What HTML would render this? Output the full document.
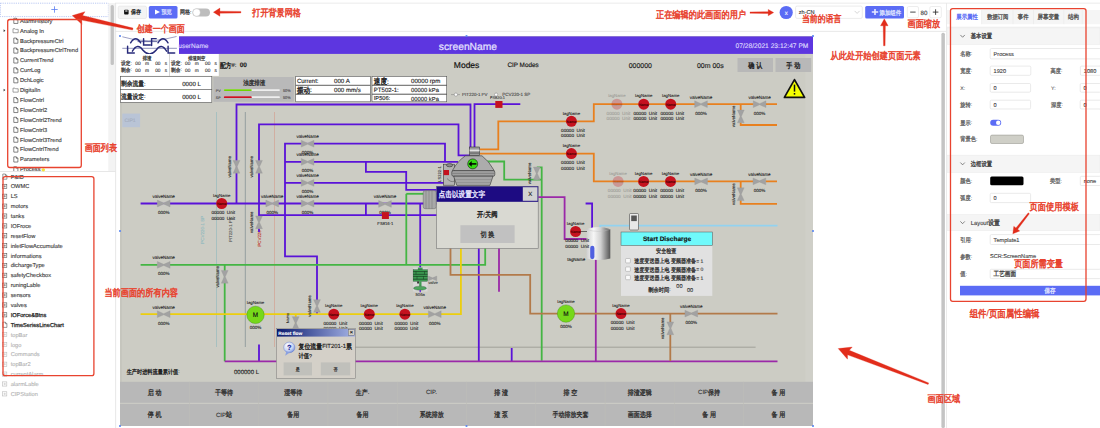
<!DOCTYPE html><html><head><meta charset="utf-8"><title>Screen editor</title><style>*{margin:0;padding:0;box-sizing:border-box}
html,body{width:1100px;height:428px;overflow:hidden;background:#fff}
svg{position:absolute;left:0;top:0;display:block;font-family:"Liberation Sans",sans-serif;text-rendering:geometricPrecision}</style></head><body><svg width="1100" height="428" viewBox="0 0 1100 428">
<rect x="0.4" y="3.2" width="108" height="13.4" fill="none" stroke="#9fb3ee" stroke-width="0.7" stroke-dasharray="1.2 1"/>
<path d="M54.5 6.3V12.7M51.3 9.5H57.7" stroke="#5b7cf0" stroke-width="0.8"/>
<rect x="108.30" y="3.00" width="7.00" height="168.00" fill="#f3f3f3" />
<rect x="110.60" y="5.00" width="3.30" height="60.00" fill="#c3c3c3" rx="1.6"/>
<rect x="115.30" y="3.00" width="0.80" height="425.00" fill="#e2e2e2" />
<rect x="0.00" y="171.00" width="115.50" height="0.80" fill="#e2e2e2" />
<defs><clipPath id="cu"><rect x="0" y="16.8" width="108" height="154.2"/></clipPath><clipPath id="cl"><rect x="0" y="171.8" width="115" height="257"/></clipPath></defs>
<g clip-path="url(#cu)">
<path d="M13.8 18.25H16.400000000000002L17.9 19.75V23.45H13.8Z M16.400000000000002 18.25V19.75H17.9" fill="none" stroke="#444" stroke-width="0.65"/>
<text x="20.00" y="22.79" font-size="5.68" fill="#3a3a3a" stroke="#3a3a3a" stroke-width="0.125">AlarmHistory</text>
<path d="M3.6 29.25L5.4 30.65L3.6 32.05Z" fill="#333"/>
<path d="M13.0 28.75H15.0L15.5 29.349999999999998H18.2V32.75H13.0Z" fill="none" stroke="#666" stroke-width="0.6"/>
<text x="20.00" y="32.69" font-size="5.68" fill="#3a3a3a" stroke="#3a3a3a" stroke-width="0.125">Analog In</text>
<path d="M13.8 38.05H16.400000000000002L17.9 39.55V43.25H13.8Z M16.400000000000002 38.05V39.55H17.9" fill="none" stroke="#444" stroke-width="0.65"/>
<text x="20.00" y="42.59" font-size="5.68" fill="#3a3a3a" stroke="#3a3a3a" stroke-width="0.125">BackpressureCtrl</text>
<path d="M13.8 47.95H16.400000000000002L17.9 49.45V53.150000000000006H13.8Z M16.400000000000002 47.95V49.45H17.9" fill="none" stroke="#444" stroke-width="0.65"/>
<text x="20.00" y="52.49" font-size="5.68" fill="#3a3a3a" stroke="#3a3a3a" stroke-width="0.125">BackpressureCtrlTrend</text>
<path d="M13.8 57.85H16.400000000000002L17.9 59.35V63.050000000000004H13.8Z M16.400000000000002 57.85V59.35H17.9" fill="none" stroke="#444" stroke-width="0.65"/>
<text x="20.00" y="62.39" font-size="5.68" fill="#3a3a3a" stroke="#3a3a3a" stroke-width="0.125">CurrentTrend</text>
<path d="M13.8 67.75H16.400000000000002L17.9 69.25V72.95H13.8Z M16.400000000000002 67.75V69.25H17.9" fill="none" stroke="#444" stroke-width="0.65"/>
<text x="20.00" y="72.29" font-size="5.68" fill="#3a3a3a" stroke="#3a3a3a" stroke-width="0.125">CurrLog</text>
<path d="M13.8 77.65H16.400000000000002L17.9 79.15V82.85000000000001H13.8Z M16.400000000000002 77.65V79.15H17.9" fill="none" stroke="#444" stroke-width="0.65"/>
<text x="20.00" y="82.19" font-size="5.68" fill="#3a3a3a" stroke="#3a3a3a" stroke-width="0.125">DchLogic</text>
<path d="M3.6 88.64999999999999L5.4 90.05L3.6 91.45Z" fill="#333"/>
<path d="M13.0 88.14999999999999H15.0L15.5 88.75H18.2V92.14999999999999H13.0Z" fill="none" stroke="#666" stroke-width="0.6"/>
<text x="20.00" y="92.09" font-size="5.68" fill="#3a3a3a" stroke="#3a3a3a" stroke-width="0.125">DigitalIn</text>
<path d="M13.8 97.45H16.400000000000002L17.9 98.95V102.65H13.8Z M16.400000000000002 97.45V98.95H17.9" fill="none" stroke="#444" stroke-width="0.65"/>
<text x="20.00" y="101.99" font-size="5.68" fill="#3a3a3a" stroke="#3a3a3a" stroke-width="0.125">FlowCntrl</text>
<path d="M13.8 107.35000000000001H16.400000000000002L17.9 108.85000000000001V112.55000000000001H13.8Z M16.400000000000002 107.35000000000001V108.85000000000001H17.9" fill="none" stroke="#444" stroke-width="0.65"/>
<text x="20.00" y="111.89" font-size="5.68" fill="#3a3a3a" stroke="#3a3a3a" stroke-width="0.125">FlowCntrl2</text>
<path d="M13.8 117.25H16.400000000000002L17.9 118.75V122.45H13.8Z M16.400000000000002 117.25V118.75H17.9" fill="none" stroke="#444" stroke-width="0.65"/>
<text x="20.00" y="121.79" font-size="5.68" fill="#3a3a3a" stroke="#3a3a3a" stroke-width="0.125">FlowCntrl2Trend</text>
<path d="M13.8 127.15H16.400000000000002L17.9 128.65V132.35H13.8Z M16.400000000000002 127.15V128.65H17.9" fill="none" stroke="#444" stroke-width="0.65"/>
<text x="20.00" y="131.69" font-size="5.68" fill="#3a3a3a" stroke="#3a3a3a" stroke-width="0.125">FlowCntrl3</text>
<path d="M13.8 137.05H16.400000000000002L17.9 138.55V142.25H13.8Z M16.400000000000002 137.05V138.55H17.9" fill="none" stroke="#444" stroke-width="0.65"/>
<text x="20.00" y="141.59" font-size="5.68" fill="#3a3a3a" stroke="#3a3a3a" stroke-width="0.125">FlowCntrl3Trend</text>
<path d="M13.8 146.95000000000002H16.400000000000002L17.9 148.45000000000002V152.15H13.8Z M16.400000000000002 146.95000000000002V148.45000000000002H17.9" fill="none" stroke="#444" stroke-width="0.65"/>
<text x="20.00" y="151.49" font-size="5.68" fill="#3a3a3a" stroke="#3a3a3a" stroke-width="0.125">FlowCntrlTrend</text>
<path d="M13.8 156.85H16.400000000000002L17.9 158.35V162.04999999999998H13.8Z M16.400000000000002 156.85V158.35H17.9" fill="none" stroke="#444" stroke-width="0.65"/>
<text x="20.00" y="161.39" font-size="5.68" fill="#3a3a3a" stroke="#3a3a3a" stroke-width="0.125">Parameters</text>
<path d="M13.8 166.75H16.400000000000002L17.9 168.25V171.95H13.8Z M16.400000000000002 166.75V168.25H17.9" fill="none" stroke="#444" stroke-width="0.65"/>
<text x="20.00" y="171.29" font-size="5.68" fill="#3a3a3a" stroke="#3a3a3a" stroke-width="0.125">Process</text>
</g>
<ellipse cx="43.3" cy="169.8" rx="1.8" ry="1.6" fill="#f3e23a"/>
<g clip-path="url(#cl)">
<path d="M2.8 174.0H5.4L6.8999999999999995 175.5V179.2H2.8Z M5.4 174.0V175.5H6.8999999999999995" fill="none" stroke="#666" stroke-width="0.65"/>
<text x="10.70" y="178.54" font-size="5.68" fill="#3a3a3a" stroke="#3a3a3a" stroke-width="0.125">P&amp;ID</text>
<rect x="2.6" y="184.28" width="4.2" height="4.2" fill="none" stroke="#555" stroke-width="0.6"/><path d="M3.5 186.38H5.9M4.7 185.18V187.57999999999998" stroke="#555" stroke-width="0.5"/>
<text x="10.70" y="188.42" font-size="5.68" fill="#3a3a3a" stroke="#3a3a3a" stroke-width="0.125">OWMC</text>
<rect x="2.6" y="194.16" width="4.2" height="4.2" fill="none" stroke="#555" stroke-width="0.6"/><path d="M3.5 196.26H5.9M4.7 195.06V197.45999999999998" stroke="#555" stroke-width="0.5"/>
<text x="10.70" y="198.30" font-size="5.68" fill="#3a3a3a" stroke="#3a3a3a" stroke-width="0.125">LS</text>
<rect x="2.6" y="204.04" width="4.2" height="4.2" fill="none" stroke="#555" stroke-width="0.6"/><path d="M3.5 206.14H5.9M4.7 204.94V207.33999999999997" stroke="#555" stroke-width="0.5"/>
<text x="10.70" y="208.18" font-size="5.68" fill="#3a3a3a" stroke="#3a3a3a" stroke-width="0.125">motors</text>
<rect x="2.6" y="213.92000000000002" width="4.2" height="4.2" fill="none" stroke="#555" stroke-width="0.6"/><path d="M3.5 216.02H5.9M4.7 214.82000000000002V217.22" stroke="#555" stroke-width="0.5"/>
<text x="10.70" y="218.06" font-size="5.68" fill="#3a3a3a" stroke="#3a3a3a" stroke-width="0.125">tanks</text>
<rect x="2.6" y="223.8" width="4.2" height="4.2" fill="none" stroke="#555" stroke-width="0.6"/><path d="M3.5 225.9H5.9M4.7 224.70000000000002V227.1" stroke="#555" stroke-width="0.5"/>
<text x="10.70" y="227.94" font-size="5.68" fill="#3a3a3a" stroke="#3a3a3a" stroke-width="0.125">IOFroce</text>
<rect x="2.6" y="233.68" width="4.2" height="4.2" fill="none" stroke="#555" stroke-width="0.6"/><path d="M3.5 235.78H5.9M4.7 234.58V236.98" stroke="#555" stroke-width="0.5"/>
<text x="10.70" y="237.82" font-size="5.68" fill="#3a3a3a" stroke="#3a3a3a" stroke-width="0.125">resetFlow</text>
<rect x="2.6" y="243.56000000000003" width="4.2" height="4.2" fill="none" stroke="#555" stroke-width="0.6"/><path d="M3.5 245.66000000000003H5.9M4.7 244.46000000000004V246.86" stroke="#555" stroke-width="0.5"/>
<text x="10.70" y="247.70" font-size="5.68" fill="#3a3a3a" stroke="#3a3a3a" stroke-width="0.125">inletFlowAccumulate</text>
<rect x="2.6" y="253.44000000000003" width="4.2" height="4.2" fill="none" stroke="#555" stroke-width="0.6"/><path d="M3.5 255.54000000000002H5.9M4.7 254.34000000000003V256.74" stroke="#555" stroke-width="0.5"/>
<text x="10.70" y="257.58" font-size="5.68" fill="#3a3a3a" stroke="#3a3a3a" stroke-width="0.125">informations</text>
<rect x="2.6" y="263.32" width="4.2" height="4.2" fill="none" stroke="#555" stroke-width="0.6"/><path d="M3.5 265.42H5.9M4.7 264.22V266.62" stroke="#555" stroke-width="0.5"/>
<text x="10.70" y="267.46" font-size="5.68" fill="#3a3a3a" stroke="#3a3a3a" stroke-width="0.125">dichargeType</text>
<rect x="2.6" y="273.2" width="4.2" height="4.2" fill="none" stroke="#555" stroke-width="0.6"/><path d="M3.5 275.3H5.9M4.7 274.1V276.5" stroke="#555" stroke-width="0.5"/>
<text x="10.70" y="277.34" font-size="5.68" fill="#3a3a3a" stroke="#3a3a3a" stroke-width="0.125">safetyCheckbox</text>
<rect x="2.6" y="283.08" width="4.2" height="4.2" fill="none" stroke="#555" stroke-width="0.6"/><path d="M3.5 285.18H5.9M4.7 283.98V286.38" stroke="#555" stroke-width="0.5"/>
<text x="10.70" y="287.22" font-size="5.68" fill="#3a3a3a" stroke="#3a3a3a" stroke-width="0.125">runingLable</text>
<rect x="2.6" y="292.96" width="4.2" height="4.2" fill="none" stroke="#555" stroke-width="0.6"/><path d="M3.5 295.06H5.9M4.7 293.86V296.26" stroke="#555" stroke-width="0.5"/>
<text x="10.70" y="297.10" font-size="5.68" fill="#3a3a3a" stroke="#3a3a3a" stroke-width="0.125">sensors</text>
<rect x="2.6" y="302.84" width="4.2" height="4.2" fill="none" stroke="#555" stroke-width="0.6"/><path d="M3.5 304.94H5.9M4.7 303.74V306.14" stroke="#555" stroke-width="0.5"/>
<text x="10.70" y="306.98" font-size="5.68" fill="#3a3a3a" stroke="#3a3a3a" stroke-width="0.125">valves</text>
<rect x="2.6" y="312.72" width="4.2" height="4.2" fill="none" stroke="#555" stroke-width="0.6"/><path d="M3.5 314.82000000000005H5.9M4.7 313.62000000000006V316.02000000000004" stroke="#555" stroke-width="0.5"/>
<text x="10.70" y="316.86" font-size="5.68" fill="#222" stroke="#222" stroke-width="0.25">IOForce&amp;Btns</text>
<path d="M2.8 322.20000000000005H5.4L6.8999999999999995 323.70000000000005V327.40000000000003H2.8Z M5.4 322.20000000000005V323.70000000000005H6.8999999999999995" fill="none" stroke="#666" stroke-width="0.65"/>
<text x="10.70" y="326.74" font-size="5.68" fill="#222" stroke="#222" stroke-width="0.25">TimeSeriesLineChart</text>
<rect x="2.6" y="332.48" width="4.2" height="4.2" fill="none" stroke="#bbb" stroke-width="0.6"/><path d="M3.5 334.58000000000004H5.9M4.7 333.38000000000005V335.78000000000003" stroke="#bbb" stroke-width="0.5"/>
<text x="10.70" y="336.62" font-size="5.68" fill="#b5b5b5" stroke="#b5b5b5" stroke-width="0.125">topBar</text>
<rect x="2.6" y="342.36" width="4.2" height="4.2" fill="none" stroke="#bbb" stroke-width="0.6"/><path d="M3.5 344.46000000000004H5.9M4.7 343.26000000000005V345.66" stroke="#bbb" stroke-width="0.5"/>
<text x="10.70" y="346.50" font-size="5.68" fill="#b5b5b5" stroke="#b5b5b5" stroke-width="0.125">logo</text>
<rect x="2.6" y="352.24" width="4.2" height="4.2" fill="none" stroke="#bbb" stroke-width="0.6"/><path d="M3.5 354.34000000000003H5.9M4.7 353.14000000000004V355.54" stroke="#bbb" stroke-width="0.5"/>
<text x="10.70" y="356.38" font-size="5.68" fill="#b5b5b5" stroke="#b5b5b5" stroke-width="0.125">Commands</text>
<rect x="2.6" y="362.12" width="4.2" height="4.2" fill="none" stroke="#bbb" stroke-width="0.6"/><path d="M3.5 364.22H5.9M4.7 363.02000000000004V365.42" stroke="#bbb" stroke-width="0.5"/>
<text x="10.70" y="366.26" font-size="5.68" fill="#b5b5b5" stroke="#b5b5b5" stroke-width="0.125">topBar2</text>
<rect x="2.6" y="372.0" width="4.2" height="4.2" fill="none" stroke="#bbb" stroke-width="0.6"/><path d="M3.5 374.1H5.9M4.7 372.90000000000003V375.3" stroke="#bbb" stroke-width="0.5"/>
<text x="10.70" y="376.14" font-size="5.68" fill="#b5b5b5" stroke="#b5b5b5" stroke-width="0.125">currentAlarm</text>
<rect x="2.6" y="381.88" width="4.2" height="4.2" fill="none" stroke="#bbb" stroke-width="0.6"/><path d="M3.5 383.98H5.9M4.7 382.78000000000003V385.18" stroke="#bbb" stroke-width="0.5"/>
<text x="10.70" y="386.02" font-size="5.68" fill="#b5b5b5" stroke="#b5b5b5" stroke-width="0.125">alarmLable</text>
<rect x="2.6" y="391.76" width="4.2" height="4.2" fill="none" stroke="#bbb" stroke-width="0.6"/><path d="M3.5 393.86H5.9M4.7 392.66V395.06" stroke="#bbb" stroke-width="0.5"/>
<text x="10.70" y="395.90" font-size="5.68" fill="#b5b5b5" stroke="#b5b5b5" stroke-width="0.125">CIPStation</text>
</g>
<rect x="115.00" y="2.70" width="985.00" height="0.80" fill="#e6e6e6" />
<rect x="115.00" y="30.90" width="831.00" height="0.80" fill="#e3e3e3" />
<rect x="118.2" y="6.1" width="28.3" height="12.4" rx="1.5" fill="#f4f4f4" stroke="#e0e0e0" stroke-width="0.6"/>
<rect x="124.10" y="9.80" width="4.50" height="4.60" fill="#111" rx="0.9"/>
<rect x="125.20" y="10.40" width="2.30" height="1.20" fill="#ddd" />
<text x="130.90" y="13.90" font-size="5.00" fill="#222" textLength="10.00" lengthAdjust="spacingAndGlyphs" stroke="#222" stroke-width="0.25" transform="matrix(1 0 0 1.2 0 -2.41)">保存</text>
<rect x="148.80" y="6.10" width="28.70" height="12.40" fill="#5b6cf5" rx="1.5"/>
<path d="M155 9.6L160 12.1L155 14.6Z" fill="#ffffff"/>
<text x="161.40" y="13.97" font-size="5.20" fill="#cfd6ff" textLength="10.40" lengthAdjust="spacingAndGlyphs" stroke="#cfd6ff" stroke-width="0.26" transform="matrix(1 0 0 1.2 0 -2.41)">预览</text>
<text x="180.00" y="14.10" font-size="5.00" fill="#444" textLength="10.01" lengthAdjust="spacingAndGlyphs" stroke="#444" stroke-width="0.25" transform="matrix(1 0 0 1.2 0 -2.45)">网格</text><text x="190.01" y="14.10" font-size="5.00" fill="#444" stroke="#444" stroke-width="0.110">:</text>
<rect x="192.50" y="8.40" width="17.50" height="8.20" fill="#bdbdbd" rx="4.1"/>
<circle cx="196.6" cy="12.5" r="3.7" fill="#fff" stroke="#aaa" stroke-width="0.3"/>
<circle cx="786.2" cy="12.5" r="6.6" fill="#5b6cf5"/>
<text x="784.70" y="14.56" font-size="6.00" fill="#eef0ff" stroke="#eef0ff" stroke-width="0.132">x</text>
<rect x="795.6" y="6.1" width="66.7" height="12.3" rx="1.5" fill="#fff" stroke="#dedede" stroke-width="0.6"/>
<text x="798.80" y="14.32" font-size="5.60" fill="#333" stroke="#333" stroke-width="0.123">zh-CN</text>
<path d="M854.6 10.9L857.1 13.4L859.6 10.9" fill="none" stroke="#bbb" stroke-width="0.6"/>
<rect x="865.20" y="6.10" width="38.80" height="12.40" fill="#5b6cf5" rx="1.5"/>
<path d="M871.8 10.3H874.2V8H875.8V10.3H878.2V11.9H875.8V14.2H874.2V11.9H871.8Z" fill="#e6e9ff" transform="translate(0 0.9)"/>
<text x="879.50" y="14.34" font-size="5.40" fill="#dfe3ff" textLength="21.60" lengthAdjust="spacingAndGlyphs" stroke="#dfe3ff" stroke-width="0.27" transform="matrix(1 0 0 1.2 0 -2.47)">添加组件</text>
<rect x="907.3" y="6.5" width="11.2" height="11.3" rx="1.5" fill="#fff" stroke="#e0e0e0" stroke-width="0.6"/>
<path d="M910.2 12.1H915.6" stroke="#333" stroke-width="0.9"/>
<text x="920.60" y="14.53" font-size="6.20" fill="#444" stroke="#444" stroke-width="0.136">80</text>
<rect x="929.8" y="6.5" width="11.5" height="11.3" rx="1.5" fill="#fff" stroke="#e0e0e0" stroke-width="0.6"/>
<path d="M932.8 12.1H938.4M935.6 9.3V14.9" stroke="#333" stroke-width="0.9"/>
<rect x="941.40" y="32.70" width="3.50" height="395.30" fill="#c4c4c4" rx="1.5"/>
<rect x="946.20" y="3.00" width="0.80" height="425.00" fill="#e6e6e6" />
<rect x="947.00" y="10.00" width="153.00" height="14.20" fill="#f5f5f5" />
<rect x="950.50" y="9.50" width="31.00" height="17.40" fill="#fff" />
<rect x="981.50" y="10.00" width="0.60" height="14.20" fill="#e8e8e8" />
<rect x="1012.70" y="10.00" width="0.60" height="14.20" fill="#e8e8e8" />
<rect x="1033.10" y="10.00" width="0.60" height="14.20" fill="#e8e8e8" />
<rect x="1063.60" y="10.00" width="0.60" height="14.20" fill="#e8e8e8" />
<rect x="1081.80" y="10.00" width="0.60" height="14.20" fill="#e8e8e8" />
<rect x="947.00" y="26.80" width="153.00" height="0.70" fill="#e6e6e6" />
<text x="956.30" y="18.73" font-size="5.38" fill="#5b6cf5" textLength="21.50" lengthAdjust="spacingAndGlyphs" stroke="#5b6cf5" stroke-width="0.27" transform="matrix(1 0 0 1.2 0 -3.35)">展示属性</text>
<text x="987.30" y="18.70" font-size="5.28" fill="#555" textLength="21.10" lengthAdjust="spacingAndGlyphs" stroke="#555" stroke-width="0.26" transform="matrix(1 0 0 1.2 0 -3.35)">数据订阅</text>
<text x="1017.80" y="18.73" font-size="5.35" fill="#555" textLength="10.70" lengthAdjust="spacingAndGlyphs" stroke="#555" stroke-width="0.27" transform="matrix(1 0 0 1.2 0 -3.35)">事件</text>
<text x="1037.50" y="18.76" font-size="5.45" fill="#555" textLength="21.80" lengthAdjust="spacingAndGlyphs" stroke="#555" stroke-width="0.27" transform="matrix(1 0 0 1.2 0 -3.35)">屏幕变量</text>
<text x="1068.00" y="18.76" font-size="5.45" fill="#555" textLength="10.90" lengthAdjust="spacingAndGlyphs" stroke="#555" stroke-width="0.27" transform="matrix(1 0 0 1.2 0 -3.35)">结构</text>
<rect x="947.00" y="27.90" width="153.00" height="16.50" fill="#f5f5f5" stroke="#ebebeb" stroke-width="0.6"/>
<path d="M960.4 34.949999999999996L962.6 37.25L964.8 34.949999999999996" fill="none" stroke="#555" stroke-width="0.7"/>
<text x="970.80" y="38.06" font-size="5.30" fill="#444" textLength="21.20" lengthAdjust="spacingAndGlyphs" stroke="#444" stroke-width="0.27" transform="matrix(1 0 0 1.2 0 -7.22)">基本设置</text>
<rect x="947.00" y="155.20" width="153.00" height="17.10" fill="#f5f5f5" stroke="#ebebeb" stroke-width="0.6"/>
<path d="M960.4 162.55L962.6 164.85L964.8 162.55" fill="none" stroke="#555" stroke-width="0.7"/>
<text x="970.80" y="165.66" font-size="5.30" fill="#444" textLength="21.20" lengthAdjust="spacingAndGlyphs" stroke="#444" stroke-width="0.27" transform="matrix(1 0 0 1.2 0 -32.74)">边框设置</text>
<rect x="947.00" y="214.60" width="153.00" height="16.00" fill="#f5f5f5" stroke="#ebebeb" stroke-width="0.6"/>
<path d="M960.4 221.4L962.6 223.7L964.8 221.4" fill="none" stroke="#555" stroke-width="0.7"/>
<text x="970.80" y="224.69" font-size="5.80" fill="#444" stroke="#444" stroke-width="0.128">Layout</text><text x="988.21" y="224.69" font-size="5.80" fill="#444" textLength="11.59" lengthAdjust="spacingAndGlyphs" stroke="#444" stroke-width="0.29" transform="matrix(1 0 0 1.2 0 -44.51)">设置</text>
<text x="960.30" y="55.47" font-size="5.20" fill="#666" textLength="10.40" lengthAdjust="spacingAndGlyphs" stroke="#666" stroke-width="0.26" transform="matrix(1 0 0 1.2 0 -10.71)">名称</text><text x="970.70" y="55.47" font-size="5.20" fill="#666" stroke="#666" stroke-width="0.114">:</text>
<rect x="990.2" y="48.5" width="110.80" height="10.40" rx="1.2" fill="#fff" stroke="#dcdcdc" stroke-width="0.6"/>
<text x="993.60" y="55.72" font-size="5.60" fill="#444" stroke="#444" stroke-width="0.123">Process</text>
<text x="960.30" y="72.47" font-size="5.20" fill="#666" textLength="10.40" lengthAdjust="spacingAndGlyphs" stroke="#666" stroke-width="0.26" transform="matrix(1 0 0 1.2 0 -14.11)">宽度</text><text x="970.70" y="72.47" font-size="5.20" fill="#666" stroke="#666" stroke-width="0.114">:</text>
<rect x="990.2" y="66.1" width="40.60" height="9.20" rx="1.2" fill="#fff" stroke="#dcdcdc" stroke-width="0.6"/>
<text x="993.60" y="72.72" font-size="5.60" fill="#444" stroke="#444" stroke-width="0.123">1920</text>
<text x="1050.50" y="72.47" font-size="5.20" fill="#666" textLength="10.40" lengthAdjust="spacingAndGlyphs" stroke="#666" stroke-width="0.26" transform="matrix(1 0 0 1.2 0 -14.11)">高度</text><text x="1060.90" y="72.47" font-size="5.20" fill="#666" stroke="#666" stroke-width="0.114">:</text>
<rect x="1080.4" y="66.1" width="20.60" height="9.20" rx="1.2" fill="#fff" stroke="#dcdcdc" stroke-width="0.6"/>
<text x="1083.80" y="72.72" font-size="5.60" fill="#444" stroke="#444" stroke-width="0.123">1080</text>
<text x="960.30" y="89.67" font-size="5.20" fill="#666" stroke="#666" stroke-width="0.114">X:</text>
<rect x="990.2" y="83.5" width="40.40" height="8.70" rx="1.2" fill="#fff" stroke="#dcdcdc" stroke-width="0.6"/>
<text x="993.60" y="89.87" font-size="5.60" fill="#444" stroke="#444" stroke-width="0.123">0</text>
<text x="1051.00" y="89.67" font-size="5.20" fill="#666" stroke="#666" stroke-width="0.114">Y:</text>
<rect x="1080.2" y="83.5" width="20.80" height="8.70" rx="1.2" fill="#fff" stroke="#dcdcdc" stroke-width="0.6"/>
<text x="1083.60" y="89.87" font-size="5.60" fill="#444" stroke="#444" stroke-width="0.123">0</text>
<text x="960.30" y="106.47" font-size="5.20" fill="#666" textLength="10.40" lengthAdjust="spacingAndGlyphs" stroke="#666" stroke-width="0.26" transform="matrix(1 0 0 1.2 0 -20.91)">旋转</text><text x="970.70" y="106.47" font-size="5.20" fill="#666" stroke="#666" stroke-width="0.114">:</text>
<rect x="990.2" y="100.2" width="40.40" height="8.80" rx="1.2" fill="#fff" stroke="#dcdcdc" stroke-width="0.6"/>
<text x="993.60" y="106.62" font-size="5.60" fill="#444" stroke="#444" stroke-width="0.123">0</text>
<text x="1051.00" y="106.47" font-size="5.20" fill="#666" textLength="10.40" lengthAdjust="spacingAndGlyphs" stroke="#666" stroke-width="0.26" transform="matrix(1 0 0 1.2 0 -20.91)">深度</text><text x="1061.40" y="106.47" font-size="5.20" fill="#666" stroke="#666" stroke-width="0.114">:</text>
<rect x="1080.2" y="100.2" width="20.80" height="8.80" rx="1.2" fill="#fff" stroke="#dcdcdc" stroke-width="0.6"/>
<text x="1083.60" y="106.62" font-size="5.60" fill="#444" stroke="#444" stroke-width="0.123">0</text>
<text x="960.30" y="124.37" font-size="5.20" fill="#666" textLength="10.40" lengthAdjust="spacingAndGlyphs" stroke="#666" stroke-width="0.26" transform="matrix(1 0 0 1.2 0 -24.49)">显示</text><text x="970.70" y="124.37" font-size="5.20" fill="#666" stroke="#666" stroke-width="0.114">:</text>
<rect x="990.20" y="119.70" width="11.00" height="6.00" fill="#5b6cf5" rx="3"/>
<circle cx="998.2" cy="122.7" r="2.2" fill="#fff"/>
<text x="960.30" y="140.97" font-size="5.20" fill="#666" textLength="15.60" lengthAdjust="spacingAndGlyphs" stroke="#666" stroke-width="0.26" transform="matrix(1 0 0 1.2 0 -27.81)">背景色</text><text x="975.90" y="140.97" font-size="5.20" fill="#666" stroke="#666" stroke-width="0.114">:</text>
<rect x="990.5" y="135.1" width="33" height="8.4" rx="1.5" fill="#cfcfc7" stroke="#9a9a92" stroke-width="0.6"/>
<text x="960.30" y="182.67" font-size="5.20" fill="#666" textLength="10.40" lengthAdjust="spacingAndGlyphs" stroke="#666" stroke-width="0.26" transform="matrix(1 0 0 1.2 0 -36.15)">颜色</text><text x="970.70" y="182.67" font-size="5.20" fill="#666" stroke="#666" stroke-width="0.114">:</text>
<rect x="990.20" y="176.50" width="33.30" height="8.80" fill="#000" rx="1.5"/>
<text x="1050.00" y="182.67" font-size="5.20" fill="#666" textLength="10.40" lengthAdjust="spacingAndGlyphs" stroke="#666" stroke-width="0.26" transform="matrix(1 0 0 1.2 0 -36.15)">类型</text><text x="1060.40" y="182.67" font-size="5.20" fill="#666" stroke="#666" stroke-width="0.114">:</text>
<rect x="1080.3" y="176.3" width="20.70" height="9.20" rx="1.2" fill="#fff" stroke="#dcdcdc" stroke-width="0.6"/>
<text x="1083.70" y="182.92" font-size="5.60" fill="#444" stroke="#444" stroke-width="0.123">none</text>
<text x="960.30" y="199.67" font-size="5.20" fill="#666" textLength="10.40" lengthAdjust="spacingAndGlyphs" stroke="#666" stroke-width="0.26" transform="matrix(1 0 0 1.2 0 -39.55)">弧度</text><text x="970.70" y="199.67" font-size="5.20" fill="#666" stroke="#666" stroke-width="0.114">:</text>
<rect x="990.2" y="193.3" width="40.40" height="9.30" rx="1.2" fill="#fff" stroke="#dcdcdc" stroke-width="0.6"/>
<text x="993.60" y="199.97" font-size="5.60" fill="#444" stroke="#444" stroke-width="0.123">0</text>
<text x="960.30" y="241.27" font-size="5.20" fill="#666" textLength="10.40" lengthAdjust="spacingAndGlyphs" stroke="#666" stroke-width="0.26" transform="matrix(1 0 0 1.2 0 -47.87)">引用</text><text x="970.70" y="241.27" font-size="5.20" fill="#666" stroke="#666" stroke-width="0.114">:</text>
<rect x="990.2" y="234.6" width="110.80" height="9.90" rx="1.2" fill="#fff" stroke="#dcdcdc" stroke-width="0.6"/>
<text x="993.60" y="241.57" font-size="5.60" fill="#444" stroke="#444" stroke-width="0.123">Template1</text>
<text x="960.30" y="258.37" font-size="5.20" fill="#666" textLength="10.40" lengthAdjust="spacingAndGlyphs" stroke="#666" stroke-width="0.26" transform="matrix(1 0 0 1.2 0 -51.29)">参数</text><text x="970.70" y="258.37" font-size="5.20" fill="#666" stroke="#666" stroke-width="0.114">:</text>
<text x="990.00" y="258.42" font-size="5.60" fill="#444" stroke="#444" stroke-width="0.123">SCR:ScreenName</text>
<text x="960.30" y="275.67" font-size="5.20" fill="#666" textLength="5.20" lengthAdjust="spacingAndGlyphs" stroke="#666" stroke-width="0.26" transform="matrix(1 0 0 1.2 0 -54.75)">值</text><text x="965.50" y="275.67" font-size="5.20" fill="#666" stroke="#666" stroke-width="0.114">:</text>
<rect x="990.2" y="269.3" width="110.80" height="9.30" rx="1.2" fill="#fff" stroke="#dcdcdc" stroke-width="0.6"/>
<text x="993.60" y="275.97" font-size="5.60" fill="#444" textLength="22.40" lengthAdjust="spacingAndGlyphs" stroke="#444" stroke-width="0.28" transform="matrix(1 0 0 1.2 0 -54.78)">工艺画面</text>
<rect x="960.00" y="285.80" width="141.00" height="9.60" fill="#5b6cf5" />
<text x="1044.50" y="292.58" font-size="5.50" fill="#e0e4ff" textLength="11.00" lengthAdjust="spacingAndGlyphs" stroke="#e0e4ff" stroke-width="0.28" transform="matrix(1 0 0 1.2 0 -58.11)">保存</text>
<defs><clipPath id="cv"><rect x="120" y="36" width="693" height="390"/></clipPath><linearGradient id="tk" x1="0" x2="1"><stop offset="0" stop-color="#cfcfcf"/><stop offset="0.3" stop-color="#f6f6f6"/><stop offset="0.6" stop-color="#d0d0d0"/><stop offset="1" stop-color="#555"/></linearGradient><linearGradient id="tb" x1="0" x2="1"><stop offset="0" stop-color="#0a1a6e"/><stop offset="1" stop-color="#a6b4e6"/></linearGradient></defs>
<g clip-path="url(#cv)">
<rect x="120.00" y="36.00" width="693.00" height="390.00" fill="#ccccc4" />
<rect x="120.00" y="36.00" width="2.00" height="390.00" fill="#c6c6be" />
<rect x="805.50" y="54.00" width="7.50" height="328.00" fill="#cfcfc8" />
<rect x="120.00" y="36.00" width="59.00" height="18.00" fill="#fff" />
<rect x="179.00" y="36.40" width="634.00" height="17.50" fill="#5d36e0" />
<text x="178.30" y="48.16" font-size="6.55" fill="#d8d2ff" stroke="#d8d2ff" stroke-width="0.144">userName</text>
<text x="438.80" y="49.50" font-size="10.27" fill="#e6e2ff" stroke="#e6e2ff" stroke-width="0.226">screenName</text>
<text x="735.50" y="48.20" font-size="6.67" fill="#ddd8ff" stroke="#ddd8ff" stroke-width="0.147">07/28/2021 23:12:47 PM</text>
<g fill="none" stroke="#272a7a" stroke-width="1.45" stroke-linecap="round"><path d="M122.7 36.9 Q148 45 176.2 36.6" stroke-width="0.45"/><path d="M130.6 42.8 Q135.6 34.6 140.6 42.8"/><path d="M143.6 38.6 V45 H150.3"/><path d="M138 41.6 H157" stroke-width="0.7"/><path d="M151.6 45.6 V38.6 H156.2"/><path d="M158 42.8 Q163 34.6 168 42.8"/><path d="M122.7 48.3 H176.5" stroke-width="0.5"/><path d="M127.6 46.2 V52.9 H134.3"/><path d="M132.4 51.2 Q137.6 42.4 143 50.3 Q149.5 57.8 156 50.3 Q161.4 42.4 166.6 51.2"/><path d="M168.1 46.2 V52.9 H174.7"/></g>
<rect x="120.00" y="54.00" width="98.80" height="21.90" fill="#fff" />
<rect x="169.20" y="54.00" width="0.50" height="21.90" fill="#a8a8a8" />
<text x="142.65" y="59.47" font-size="4.35" fill="#333" textLength="8.70" lengthAdjust="spacingAndGlyphs" stroke="#333" stroke-width="0.22" transform="matrix(1 0 0 1.2 0 -11.57)">排渣</text>
<text x="188.15" y="59.44" font-size="4.28" fill="#333" textLength="17.10" lengthAdjust="spacingAndGlyphs" stroke="#333" stroke-width="0.21" transform="matrix(1 0 0 1.2 0 -11.57)">排渣则空</text>
<text x="121.00" y="64.89" font-size="4.70" fill="#444" textLength="9.39" lengthAdjust="spacingAndGlyphs" stroke="#444" stroke-width="0.23" transform="matrix(1 0 0 1.2 0 -12.63)">设定</text><text x="130.39" y="64.89" font-size="4.70" fill="#444" stroke="#444" stroke-width="0.103">:</text>
<text x="135.30" y="64.93" font-size="4.80" fill="#333" stroke="#333" stroke-width="0.106">00</text>
<text x="145.00" y="64.93" font-size="4.80" fill="#333" stroke="#333" stroke-width="0.106">m</text>
<text x="155.20" y="64.93" font-size="4.80" fill="#333" stroke="#333" stroke-width="0.106">00</text>
<text x="164.80" y="64.93" font-size="4.80" fill="#333" stroke="#333" stroke-width="0.106">s</text>
<text x="121.00" y="71.49" font-size="4.70" fill="#444" textLength="9.39" lengthAdjust="spacingAndGlyphs" stroke="#444" stroke-width="0.23" transform="matrix(1 0 0 1.2 0 -13.95)">剩余</text><text x="130.39" y="71.49" font-size="4.70" fill="#444" stroke="#444" stroke-width="0.103">:</text>
<text x="135.30" y="71.53" font-size="4.80" fill="#333" stroke="#333" stroke-width="0.106">00</text>
<text x="145.00" y="71.53" font-size="4.80" fill="#333" stroke="#333" stroke-width="0.106">m</text>
<text x="155.20" y="71.53" font-size="4.80" fill="#333" stroke="#333" stroke-width="0.106">00</text>
<text x="164.80" y="71.53" font-size="4.80" fill="#333" stroke="#333" stroke-width="0.106">s</text>
<text x="171.00" y="64.89" font-size="4.70" fill="#444" textLength="9.39" lengthAdjust="spacingAndGlyphs" stroke="#444" stroke-width="0.23" transform="matrix(1 0 0 1.2 0 -12.63)">设定</text><text x="180.39" y="64.89" font-size="4.70" fill="#444" stroke="#444" stroke-width="0.103">:</text>
<text x="185.10" y="64.93" font-size="4.80" fill="#333" stroke="#333" stroke-width="0.106">00</text>
<text x="194.80" y="64.93" font-size="4.80" fill="#333" stroke="#333" stroke-width="0.106">m</text>
<text x="205.00" y="64.93" font-size="4.80" fill="#333" stroke="#333" stroke-width="0.106">00</text>
<text x="214.60" y="64.93" font-size="4.80" fill="#333" stroke="#333" stroke-width="0.106">s</text>
<text x="171.00" y="71.49" font-size="4.70" fill="#444" textLength="9.39" lengthAdjust="spacingAndGlyphs" stroke="#444" stroke-width="0.23" transform="matrix(1 0 0 1.2 0 -13.95)">剩余</text><text x="180.39" y="71.49" font-size="4.70" fill="#444" stroke="#444" stroke-width="0.103">:</text>
<text x="185.10" y="71.53" font-size="4.80" fill="#333" stroke="#333" stroke-width="0.106">00</text>
<text x="194.80" y="71.53" font-size="4.80" fill="#333" stroke="#333" stroke-width="0.106">m</text>
<text x="205.00" y="71.53" font-size="4.80" fill="#333" stroke="#333" stroke-width="0.106">00</text>
<text x="214.60" y="71.53" font-size="4.80" fill="#333" stroke="#333" stroke-width="0.106">s</text>
<text x="220.00" y="67.09" font-size="5.81" fill="#222" textLength="11.62" lengthAdjust="spacingAndGlyphs" stroke="#222" stroke-width="0.29" transform="matrix(1 0 0 1.2 0 -12.99)">配方</text><text x="231.62" y="67.09" font-size="5.81" fill="#222" stroke="#222" stroke-width="0.128"> #: </text>
<text x="239.70" y="67.34" font-size="6.50" fill="#222" font-weight="bold" stroke="#222" stroke-width="0.143">00</text>
<text x="453.80" y="68.27" font-size="8.53" fill="#111" stroke="#111" stroke-width="0.188">Modes</text>
<text x="507.40" y="67.29" font-size="6.35" fill="#111" stroke="#111" stroke-width="0.140">CIP Modes</text>
<text x="628.70" y="67.51" font-size="6.98" fill="#222" stroke="#222" stroke-width="0.154">000000</text>
<text x="697.00" y="67.51" font-size="6.96" fill="#222" stroke="#222" stroke-width="0.153">00m 00s</text>
<rect x="737.50" y="58.00" width="35.50" height="14.00" fill="#b8b8b8" />
<rect x="775.50" y="58.00" width="35.70" height="14.00" fill="#b8b8b8" />
<text x="748.30" y="67.31" font-size="6.15" fill="#222" textLength="6.15" lengthAdjust="spacingAndGlyphs" stroke="#222" stroke-width="0.31" transform="matrix(1 0 0 1.2 0 -13.01)">确</text><text x="754.45" y="67.31" font-size="6.15" fill="#222" stroke="#222" stroke-width="0.135"> </text><text x="756.15" y="67.31" font-size="6.15" fill="#222" textLength="6.15" lengthAdjust="spacingAndGlyphs" stroke="#222" stroke-width="0.31" transform="matrix(1 0 0 1.2 0 -13.01)">认</text>
<text x="786.30" y="67.31" font-size="6.15" fill="#222" textLength="6.15" lengthAdjust="spacingAndGlyphs" stroke="#222" stroke-width="0.31" transform="matrix(1 0 0 1.2 0 -13.01)">手</text><text x="792.45" y="67.31" font-size="6.15" fill="#222" stroke="#222" stroke-width="0.135"> </text><text x="794.15" y="67.31" font-size="6.15" fill="#222" textLength="6.15" lengthAdjust="spacingAndGlyphs" stroke="#222" stroke-width="0.31" transform="matrix(1 0 0 1.2 0 -13.01)">动</text>
<path d="M794.5 79.6 L804.6 97.4 L784.4 97.4 Z" fill="#f4ff00" stroke="#111" stroke-width="1.7" stroke-linejoin="round"/>
<rect x="793.75" y="84.60" width="1.50" height="7.00" fill="#111" />
<rect x="793.75" y="93.00" width="1.50" height="1.60" fill="#111" />
<rect x="120.5" y="76.4" width="91.30" height="12.90" fill="#fff" stroke="#555" stroke-width="0.6"/>
<rect x="120.5" y="89.3" width="91.30" height="13.00" fill="#fff" stroke="#555" stroke-width="0.6"/>
<text x="121.00" y="85.66" font-size="5.73" fill="#333" textLength="22.91" lengthAdjust="spacingAndGlyphs" stroke="#333" stroke-width="0.29" transform="matrix(1 0 0 1.2 0 -16.71)">剩余流量</text><text x="143.91" y="85.66" font-size="5.73" fill="#333" stroke="#333" stroke-width="0.126">:</text>
<text x="182.20" y="86.00" font-size="6.11" fill="#222" stroke="#222" stroke-width="0.135">0000 L</text>
<text x="121.00" y="98.16" font-size="5.73" fill="#333" textLength="22.91" lengthAdjust="spacingAndGlyphs" stroke="#333" stroke-width="0.29" transform="matrix(1 0 0 1.2 0 -19.21)">流量设定</text><text x="143.91" y="98.16" font-size="5.73" fill="#333" stroke="#333" stroke-width="0.126">:</text>
<text x="182.20" y="98.50" font-size="6.11" fill="#222" stroke="#222" stroke-width="0.135">0000 L</text>
<rect x="213.30" y="77.00" width="80.60" height="24.80" fill="#b9b9b9" />
<text x="243.20" y="84.28" font-size="5.50" fill="#333" textLength="22.00" lengthAdjust="spacingAndGlyphs" stroke="#333" stroke-width="0.28" transform="matrix(1 0 0 1.2 0 -16.45)">浊度排渣</text>
<rect x="223.80" y="89.20" width="56.10" height="1.80" fill="#eeeeee" rx="0.9"/>
<rect x="223.80" y="89.20" width="28.00" height="1.80" fill="#6fd300" rx="0.9"/>
<rect x="223.80" y="96.30" width="56.10" height="1.80" fill="#eeeeee" rx="0.9"/>
<rect x="223.80" y="96.30" width="28.00" height="1.80" fill="#cc1122" rx="0.9"/>
<text x="215.80" y="91.50" font-size="3.60" fill="#333" stroke="#333" stroke-width="0.079">PV</text>
<text x="215.80" y="98.50" font-size="3.60" fill="#333" stroke="#333" stroke-width="0.079">SP</text>
<text x="283.00" y="91.57" font-size="3.80" fill="#444" stroke="#444" stroke-width="0.084">50%</text>
<text x="283.00" y="98.57" font-size="3.80" fill="#444" stroke="#444" stroke-width="0.084">50%</text>
<rect x="295.7" y="76.4" width="74.60" height="8.70" fill="#fff" stroke="#555" stroke-width="0.6"/>
<rect x="295.7" y="85.6" width="74.60" height="8.40" fill="#fff" stroke="#555" stroke-width="0.6"/>
<rect x="295.7" y="94.5" width="74.60" height="7.30" fill="#fff" stroke="#555" stroke-width="0.6"/>
<rect x="372" y="76.4" width="74.70" height="8.70" fill="#fff" stroke="#555" stroke-width="0.6"/>
<rect x="372" y="85.6" width="74.70" height="8.40" fill="#fff" stroke="#555" stroke-width="0.6"/>
<rect x="372" y="94.5" width="74.70" height="7.30" fill="#fff" stroke="#555" stroke-width="0.6"/>
<text x="296.90" y="83.35" font-size="5.98" fill="#222" stroke="#222" stroke-width="0.132">Current:</text>
<text x="334.00" y="83.42" font-size="6.16" fill="#222" stroke="#222" stroke-width="0.136">000 A</text>
<text x="296.90" y="92.37" font-size="6.59" fill="#222" textLength="13.17" lengthAdjust="spacingAndGlyphs" stroke="#222" stroke-width="0.33" transform="matrix(1 0 0 1.2 0 -17.99)">振动</text><text x="310.07" y="92.37" font-size="6.59" fill="#222" stroke="#222" stroke-width="0.145">:</text>
<text x="334.00" y="92.20" font-size="6.11" fill="#222" stroke="#222" stroke-width="0.134">000 mm/s</text>
<text x="373.80" y="83.57" font-size="6.59" fill="#222" textLength="13.17" lengthAdjust="spacingAndGlyphs" stroke="#222" stroke-width="0.33" transform="matrix(1 0 0 1.2 0 -16.23)">速度</text><text x="386.97" y="83.57" font-size="6.59" fill="#222" stroke="#222" stroke-width="0.145">:</text>
<text x="411.00" y="83.41" font-size="6.13" fill="#222" stroke="#222" stroke-width="0.135">00000 rpm</text>
<text x="373.80" y="92.19" font-size="6.08" fill="#222" stroke="#222" stroke-width="0.134">PT502-1:</text>
<text x="411.00" y="92.10" font-size="5.84" fill="#222" stroke="#222" stroke-width="0.128">00000 kPa</text>
<text x="373.80" y="100.44" font-size="5.67" fill="#222" stroke="#222" stroke-width="0.125">IP506:</text>
<text x="411.00" y="100.50" font-size="5.84" fill="#222" stroke="#222" stroke-width="0.128">00000 kPa</text>
<path d="M451 94.6 H460" stroke="#666" stroke-width="0.4"/><circle cx="455.9" cy="94.6" r="1.6" fill="#fff" stroke="#666" stroke-width="0.4"/>
<text x="462.10" y="96.20" font-size="4.44" fill="#444" stroke="#444" stroke-width="0.098">PIT220-1 PV</text>
<circle cx="496.1" cy="94.6" r="1.6" fill="#fff" stroke="#666" stroke-width="0.4"/>
<text x="502.20" y="96.22" font-size="4.50" fill="#444" stroke="#444" stroke-width="0.099">PCV220-1 SP</text>
<text x="490.10" y="98.60" font-size="3.90" fill="#333" stroke="#333" stroke-width="0.086">FS820-1</text>
<rect x="122.30" y="113.60" width="17.80" height="13.60" fill="#b9c4d6" />
<text x="124.40" y="122.20" font-size="5.00" fill="#a4adbd" stroke="#a4adbd" stroke-width="0.110">CIP1</text>
<path d="M216.5 112 V347" stroke="#8fb9be" stroke-width="0.6"/>
<path d="M245.3 112 V347" stroke="#6f7d84" stroke-width="0.6"/>
<path d="M274.5 112 V347" stroke="#d59a8a" stroke-width="0.6"/>
<path d="M355 347.2 H755.6" stroke="#9c9c94" stroke-width="0.9"/>
<g transform="rotate(-90 202.20 229.70)"><text x="188.00" y="231.34" font-size="4.56" fill="#8fb9be" stroke="#8fb9be" stroke-width="0.100">PCV220-1 SP</text></g>
<g transform="rotate(-90 230.90 229.70)"><text x="218.80" y="231.22" font-size="4.23" fill="#555" stroke="#555" stroke-width="0.093">PIT220-1 PV</text></g>
<g transform="rotate(-90 259.60 238.40)"><text x="251.45" y="239.98" font-size="4.38" fill="#c0392b" stroke="#c0392b" stroke-width="0.096">PCV220</text></g>
<path d="M236.5 203.5 V104.5 H470.5 V149" fill="none" stroke="#5a12d8" stroke-width="1.8"/>
<path d="M474.5 149 V104.2 H520.3" fill="none" stroke="#5a12d8" stroke-width="1.8"/>
<path d="M259 232 V124.4 H458.5 V155.3 H470" fill="none" stroke="#5a12d8" stroke-width="1.8"/>
<path d="M317 314 V256.3 H285 V143.7 H445 V162" fill="none" stroke="#5a12d8" stroke-width="1.8"/>
<path d="M285 161.9 H458" fill="none" stroke="#5a12d8" stroke-width="1.8"/>
<path d="M365.9 161.9 V171.9 H406.2 V189.9 H437" fill="none" stroke="#5a12d8" stroke-width="1.8"/>
<path d="M285 182.9 H444" fill="none" stroke="#5a12d8" stroke-width="1.8"/>
<path d="M140.6 203.5 H437" fill="none" stroke="#5a12d8" stroke-width="1.8"/>
<path d="M365.9 203.5 V215.2" fill="none" stroke="#5a12d8" stroke-width="1.8"/>
<path d="M259 215.2 H437" fill="none" stroke="#5a12d8" stroke-width="1.8"/>
<path d="M420.2 204 V267.6" fill="none" stroke="#5a12d8" stroke-width="1.8"/>
<path d="M478.8 247.5 V361.3" fill="none" stroke="#5a12d8" stroke-width="1.8"/>
<path d="M511.7 348 V361.3" fill="none" stroke="#5a12d8" stroke-width="1.8"/>
<path d="M259 344.5 V361.3" fill="none" stroke="#5a12d8" stroke-width="1.8"/>
<path d="M585.6 203.5 H592.1 V228.4" fill="none" stroke="#5a12d8" stroke-width="1.8"/>
<path d="M480 149.3 H498.3 V121.3 H593.8 V104.2 H777" fill="none" stroke="#e8801f" stroke-width="1.8"/>
<path d="M740.7 104.2 V125 H777" fill="none" stroke="#e8801f" stroke-width="1.8"/>
<path d="M480 153.6 H593.8 V181.4 H777" fill="none" stroke="#e8801f" stroke-width="1.8"/>
<path d="M740.7 181.4 V203.9 H777" fill="none" stroke="#e8801f" stroke-width="1.8"/>
<path d="M486 161.5 H504.2 V179.6 H541.7" fill="none" stroke="#44b544" stroke-width="1.8"/>
<path d="M536.8 167.4 H541.7 V360.7" fill="none" stroke="#44b544" stroke-width="1.8"/>
<path d="M406.3 193.8 H437" fill="none" stroke="#44b544" stroke-width="1.8"/>
<path d="M406.3 193.8 V264.9" fill="none" stroke="#44b544" stroke-width="1.8"/>
<path d="M140.6 264.9 H485.2 V247.5" fill="none" stroke="#44b544" stroke-width="1.8"/>
<path d="M224.7 264.9 V361.3" fill="none" stroke="#44b544" stroke-width="1.8"/>
<path d="M140.6 314.2 H460.9 V247.5" fill="none" stroke="#ecce0e" stroke-width="1.8"/>
<path d="M295.7 314.2 V326.5" fill="none" stroke="#ecce0e" stroke-width="1.8"/>
<path d="M224.7 361.3 H777.5" fill="none" stroke="#9a28a8" stroke-width="1.8"/>
<path d="M538 197.1 H564.6 V239 H587.4" fill="none" stroke="#9a28a8" stroke-width="1.8"/>
<path d="M499 247.5 V291.7" fill="none" stroke="#9a28a8" stroke-width="1.8"/>
<path d="M595.8 258 V361.3" fill="none" stroke="#9a28a8" stroke-width="1.8"/>
<path d="M450.5 247.5 V274.9 H530.2 V313.6 H777.5" fill="none" stroke="#b27a4a" stroke-width="1.8"/>
<path d="M670.3 313.6 V361" fill="none" stroke="#b27a4a" stroke-width="1.8"/>
<path d="M600.2 229 V225.6 H777.5" fill="none" stroke="#92d2f0" stroke-width="1.8"/>
<rect x="157.65" y="202.20" width="12.10" height="2.60" fill="#ccccc4" />
<polygon points="157.35,200.10 163.70,202.95 170.05,200.10 170.05,206.90 163.70,204.05 157.35,206.90" fill="#a2a2a2" stroke="#969696" stroke-width="0.3"/>
<text x="152.50" y="197.81" font-size="4.48" fill="#222" stroke="#222" stroke-width="0.099">valveName</text>
<text x="157.95" y="213.82" font-size="4.50" fill="#222" stroke="#222" stroke-width="0.099">000%</text>
<circle cx="221.7" cy="203.5" r="5.5" fill="#c5121f"/>
<text x="216.90" y="204.80" font-size="3.60" fill="#3a0000" stroke="#3a0000" stroke-width="0.079">Name</text>
<text x="212.95" y="196.75" font-size="4.31" fill="#222" stroke="#222" stroke-width="0.095">tagName</text>
<text x="211.40" y="213.88" font-size="4.65" fill="#222" stroke="#222" stroke-width="0.102">00000  Unit</text>
<text x="211.40" y="219.68" font-size="4.65" fill="#222" stroke="#222" stroke-width="0.102">00000  Unit</text>
<rect x="235.20" y="160.75" width="2.60" height="12.10" fill="#ccccc4" />
<polygon points="233.10,160.45 235.95,166.80 233.10,173.15 239.90,173.15 237.05,166.80 239.90,160.45" fill="#a2a2a2" stroke="#969696" stroke-width="0.3"/>
<g transform="rotate(-90 229.00 166.80)"><text x="218.25" y="168.35" font-size="4.30" fill="#222" stroke="#222" stroke-width="0.095">valveName</text></g>
<rect x="257.70" y="160.75" width="2.60" height="12.10" fill="#ccccc4" />
<polygon points="255.60,160.45 258.45,166.80 255.60,173.15 262.40,173.15 259.55,166.80 262.40,160.45" fill="#a2a2a2" stroke="#969696" stroke-width="0.3"/>
<g transform="rotate(-90 251.50 166.80)"><text x="240.75" y="168.35" font-size="4.30" fill="#222" stroke="#222" stroke-width="0.095">valveName</text></g>
<rect x="257.70" y="216.25" width="2.60" height="12.10" fill="#ccccc4" />
<polygon points="255.60,215.95 258.45,222.30 255.60,228.65 262.40,228.65 259.55,222.30 262.40,215.95" fill="#a2a2a2" stroke="#969696" stroke-width="0.3"/>
<g transform="rotate(-90 251.30 222.30)"><text x="240.55" y="223.85" font-size="4.30" fill="#222" stroke="#222" stroke-width="0.095">valveName</text></g>
<rect x="266.15" y="202.20" width="12.10" height="2.60" fill="#ccccc4" />
<polygon points="265.85,200.10 272.20,202.95 278.55,200.10 278.55,206.90 272.20,204.05 265.85,206.90" fill="#a2a2a2" stroke="#969696" stroke-width="0.3"/>
<text x="261.00" y="197.81" font-size="4.48" fill="#222" stroke="#222" stroke-width="0.099">valveName</text>
<text x="266.45" y="213.82" font-size="4.50" fill="#222" stroke="#222" stroke-width="0.099">000%</text>
<rect x="301.55" y="202.20" width="12.10" height="2.60" fill="#ccccc4" />
<polygon points="301.25,200.10 307.60,202.95 313.95,200.10 313.95,206.90 307.60,204.05 301.25,206.90" fill="#a2a2a2" stroke="#969696" stroke-width="0.3"/>
<text x="296.40" y="197.81" font-size="4.48" fill="#222" stroke="#222" stroke-width="0.099">valveName</text>
<text x="301.85" y="213.82" font-size="4.50" fill="#222" stroke="#222" stroke-width="0.099">000%</text>
<rect x="301.55" y="181.60" width="12.10" height="2.60" fill="#ccccc4" />
<polygon points="301.25,179.50 307.60,182.35 313.95,179.50 313.95,186.30 307.60,183.45 301.25,186.30" fill="#a2a2a2" stroke="#969696" stroke-width="0.3"/>
<text x="296.40" y="177.21" font-size="4.48" fill="#222" stroke="#222" stroke-width="0.099">valveName</text>
<text x="301.85" y="193.22" font-size="4.50" fill="#222" stroke="#222" stroke-width="0.099">000%</text>
<rect x="301.55" y="160.60" width="12.10" height="2.60" fill="#ccccc4" />
<polygon points="301.25,158.50 307.60,161.35 313.95,158.50 313.95,165.30 307.60,162.45 301.25,165.30" fill="#a2a2a2" stroke="#969696" stroke-width="0.3"/>
<text x="296.40" y="156.21" font-size="4.48" fill="#222" stroke="#222" stroke-width="0.099">valveName</text>
<text x="301.85" y="172.22" font-size="4.50" fill="#222" stroke="#222" stroke-width="0.099">000%</text>
<rect x="301.55" y="142.40" width="12.10" height="2.60" fill="#ccccc4" />
<polygon points="301.25,140.30 307.60,143.15 313.95,140.30 313.95,147.10 307.60,144.25 301.25,147.10" fill="#a2a2a2" stroke="#969696" stroke-width="0.3"/>
<text x="296.40" y="138.01" font-size="4.48" fill="#222" stroke="#222" stroke-width="0.099">valveName</text>
<text x="301.85" y="154.02" font-size="4.50" fill="#222" stroke="#222" stroke-width="0.099">000%</text>
<rect x="378.95" y="202.60" width="12.10" height="2.60" fill="#ccccc4" />
<polygon points="378.65,200.50 385.00,203.35 391.35,200.50 391.35,207.30 385.00,204.45 378.65,207.30" fill="#a2a2a2" stroke="#969696" stroke-width="0.3"/>
<text x="373.80" y="198.21" font-size="4.48" fill="#222" stroke="#222" stroke-width="0.099">valveName</text>
<text x="379.25" y="214.22" font-size="4.50" fill="#222" stroke="#222" stroke-width="0.099">000%</text>
<rect x="381.90" y="212.10" width="7.00" height="6.90" fill="#c5121f" />
<text x="377.35" y="224.71" font-size="4.20" fill="#222" stroke="#222" stroke-width="0.092">FS816-1</text>
<rect x="495.30" y="101.00" width="7.20" height="6.90" fill="#c5121f" />
<circle cx="571.4" cy="121.3" r="5.5" fill="#c5121f"/>
<text x="566.60" y="122.60" font-size="3.60" fill="#3a0000" stroke="#3a0000" stroke-width="0.079">Name</text>
<text x="562.65" y="114.55" font-size="4.31" fill="#222" stroke="#222" stroke-width="0.095">tagName</text>
<text x="561.10" y="131.68" font-size="4.65" fill="#222" stroke="#222" stroke-width="0.102">00000  Unit</text>
<text x="561.10" y="137.48" font-size="4.65" fill="#222" stroke="#222" stroke-width="0.102">00000  Unit</text>
<g opacity="0.28">
<circle cx="616.9" cy="104.2" r="5.5" fill="#c5121f"/>
<text x="612.10" y="105.50" font-size="3.60" fill="#3a0000" stroke="#3a0000" stroke-width="0.079">Name</text>
<text x="608.15" y="97.45" font-size="4.31" fill="#222" stroke="#222" stroke-width="0.095">tagName</text>
<text x="606.60" y="114.58" font-size="4.65" fill="#222" stroke="#222" stroke-width="0.102">00000  Unit</text>
<text x="606.60" y="120.38" font-size="4.65" fill="#222" stroke="#222" stroke-width="0.102">00000  Unit</text>
</g>
<circle cx="643.7" cy="104.2" r="5.5" fill="#c5121f"/>
<text x="638.90" y="105.50" font-size="3.60" fill="#3a0000" stroke="#3a0000" stroke-width="0.079">Name</text>
<text x="634.95" y="97.45" font-size="4.31" fill="#222" stroke="#222" stroke-width="0.095">tagName</text>
<text x="633.40" y="114.58" font-size="4.65" fill="#222" stroke="#222" stroke-width="0.102">00000  Unit</text>
<text x="633.40" y="120.38" font-size="4.65" fill="#222" stroke="#222" stroke-width="0.102">00000  Unit</text>
<circle cx="670.7" cy="104.2" r="5.5" fill="#c5121f"/>
<text x="665.90" y="105.50" font-size="3.60" fill="#3a0000" stroke="#3a0000" stroke-width="0.079">Name</text>
<text x="661.95" y="97.45" font-size="4.31" fill="#222" stroke="#222" stroke-width="0.095">tagName</text>
<text x="660.40" y="114.58" font-size="4.65" fill="#222" stroke="#222" stroke-width="0.102">00000  Unit</text>
<text x="660.40" y="120.38" font-size="4.65" fill="#222" stroke="#222" stroke-width="0.102">00000  Unit</text>
<rect x="694.95" y="102.90" width="12.10" height="2.60" fill="#ccccc4" />
<polygon points="694.65,100.80 701.00,103.65 707.35,100.80 707.35,107.60 701.00,104.75 694.65,107.60" fill="#a2a2a2" stroke="#969696" stroke-width="0.3"/>
<text x="689.80" y="98.51" font-size="4.48" fill="#222" stroke="#222" stroke-width="0.099">valveName</text>
<text x="695.25" y="114.52" font-size="4.50" fill="#222" stroke="#222" stroke-width="0.099">000%</text>
<rect x="739.50" y="110.35" width="2.60" height="12.10" fill="#ccccc4" />
<polygon points="737.40,110.05 740.25,116.40 737.40,122.75 744.20,122.75 741.35,116.40 744.20,110.05" fill="#a2a2a2" stroke="#969696" stroke-width="0.3"/>
<g transform="rotate(-90 733.20 116.40)"><text x="722.45" y="117.95" font-size="4.30" fill="#222" stroke="#222" stroke-width="0.095">valveName</text></g>
<rect x="753.55" y="102.90" width="12.10" height="2.60" fill="#ccccc4" />
<polygon points="753.25,100.80 759.60,103.65 765.95,100.80 765.95,107.60 759.60,104.75 753.25,107.60" fill="#a2a2a2" stroke="#969696" stroke-width="0.3"/>
<text x="748.40" y="98.51" font-size="4.48" fill="#222" stroke="#222" stroke-width="0.099">valveName</text>
<text x="753.85" y="114.52" font-size="4.50" fill="#222" stroke="#222" stroke-width="0.099">000%</text>
<circle cx="571.4" cy="153.6" r="5.5" fill="#c5121f"/>
<text x="566.60" y="154.90" font-size="3.60" fill="#3a0000" stroke="#3a0000" stroke-width="0.079">Name</text>
<text x="562.65" y="146.85" font-size="4.31" fill="#222" stroke="#222" stroke-width="0.095">tagName</text>
<text x="561.10" y="163.98" font-size="4.65" fill="#222" stroke="#222" stroke-width="0.102">00000  Unit</text>
<text x="561.10" y="169.78" font-size="4.65" fill="#222" stroke="#222" stroke-width="0.102">00000  Unit</text>
<g opacity="0.28">
<circle cx="618.1" cy="181.4" r="5.5" fill="#c5121f"/>
<text x="613.30" y="182.70" font-size="3.60" fill="#3a0000" stroke="#3a0000" stroke-width="0.079">Name</text>
<text x="609.35" y="174.65" font-size="4.31" fill="#222" stroke="#222" stroke-width="0.095">tagName</text>
<text x="607.80" y="191.78" font-size="4.65" fill="#222" stroke="#222" stroke-width="0.102">00000  Unit</text>
<text x="607.80" y="197.58" font-size="4.65" fill="#222" stroke="#222" stroke-width="0.102">00000  Unit</text>
</g>
<circle cx="643.6" cy="181.4" r="5.5" fill="#c5121f"/>
<text x="638.80" y="182.70" font-size="3.60" fill="#3a0000" stroke="#3a0000" stroke-width="0.079">Name</text>
<text x="634.85" y="174.65" font-size="4.31" fill="#222" stroke="#222" stroke-width="0.095">tagName</text>
<text x="633.30" y="191.78" font-size="4.65" fill="#222" stroke="#222" stroke-width="0.102">00000  Unit</text>
<text x="633.30" y="197.58" font-size="4.65" fill="#222" stroke="#222" stroke-width="0.102">00000  Unit</text>
<circle cx="670.5" cy="181.4" r="5.5" fill="#c5121f"/>
<text x="665.70" y="182.70" font-size="3.60" fill="#3a0000" stroke="#3a0000" stroke-width="0.079">Name</text>
<text x="661.75" y="174.65" font-size="4.31" fill="#222" stroke="#222" stroke-width="0.095">tagName</text>
<text x="660.20" y="191.78" font-size="4.65" fill="#222" stroke="#222" stroke-width="0.102">00000  Unit</text>
<text x="660.20" y="197.58" font-size="4.65" fill="#222" stroke="#222" stroke-width="0.102">00000  Unit</text>
<rect x="695.05" y="180.10" width="12.10" height="2.60" fill="#ccccc4" />
<polygon points="694.75,178.00 701.10,180.85 707.45,178.00 707.45,184.80 701.10,181.95 694.75,184.80" fill="#a2a2a2" stroke="#969696" stroke-width="0.3"/>
<text x="689.90" y="175.71" font-size="4.48" fill="#222" stroke="#222" stroke-width="0.099">valveName</text>
<text x="695.35" y="191.72" font-size="4.50" fill="#222" stroke="#222" stroke-width="0.099">000%</text>
<rect x="739.40" y="188.15" width="2.60" height="12.10" fill="#ccccc4" />
<polygon points="737.30,187.85 740.15,194.20 737.30,200.55 744.10,200.55 741.25,194.20 744.10,187.85" fill="#a2a2a2" stroke="#969696" stroke-width="0.3"/>
<g transform="rotate(-90 733.20 194.20)"><text x="722.45" y="195.75" font-size="4.30" fill="#222" stroke="#222" stroke-width="0.095">valveName</text></g>
<rect x="753.35" y="180.10" width="12.10" height="2.60" fill="#ccccc4" />
<polygon points="753.05,178.00 759.40,180.85 765.75,178.00 765.75,184.80 759.40,181.95 753.05,184.80" fill="#a2a2a2" stroke="#969696" stroke-width="0.3"/>
<text x="748.20" y="175.71" font-size="4.48" fill="#222" stroke="#222" stroke-width="0.099">valveName</text>
<text x="753.65" y="191.72" font-size="4.50" fill="#222" stroke="#222" stroke-width="0.099">000%</text>
<rect x="157.65" y="263.60" width="12.10" height="2.60" fill="#ccccc4" />
<polygon points="157.35,261.50 163.70,264.35 170.05,261.50 170.05,268.30 163.70,265.45 157.35,268.30" fill="#a2a2a2" stroke="#969696" stroke-width="0.3"/>
<text x="152.50" y="259.21" font-size="4.48" fill="#222" stroke="#222" stroke-width="0.099">valveName</text>
<text x="157.95" y="275.22" font-size="4.50" fill="#222" stroke="#222" stroke-width="0.099">000%</text>
<rect x="223.40" y="270.75" width="2.60" height="12.10" fill="#ccccc4" />
<polygon points="221.30,270.45 224.15,276.80 221.30,283.15 228.10,283.15 225.25,276.80 228.10,270.45" fill="#a2a2a2" stroke="#969696" stroke-width="0.3"/>
<g transform="rotate(-90 217.20 276.80)"><text x="206.45" y="278.35" font-size="4.30" fill="#222" stroke="#222" stroke-width="0.095">valveName</text></g>
<rect x="535.50" y="167.35" width="2.60" height="12.10" fill="#ccccc4" />
<polygon points="533.40,167.05 536.25,173.40 533.40,179.75 540.20,179.75 537.35,173.40 540.20,167.05" fill="#a2a2a2" stroke="#969696" stroke-width="0.3"/>
<g transform="rotate(-90 529.30 173.40)"><text x="518.55" y="174.95" font-size="4.30" fill="#222" stroke="#222" stroke-width="0.095">valveName</text></g>
<rect x="157.65" y="312.90" width="12.10" height="2.60" fill="#ccccc4" />
<polygon points="157.35,310.80 163.70,313.65 170.05,310.80 170.05,317.60 163.70,314.75 157.35,317.60" fill="#a2a2a2" stroke="#969696" stroke-width="0.3"/>
<text x="152.50" y="308.51" font-size="4.48" fill="#222" stroke="#222" stroke-width="0.099">valveName</text>
<text x="157.95" y="324.52" font-size="4.50" fill="#222" stroke="#222" stroke-width="0.099">000%</text>
<circle cx="255.5" cy="314.9" r="8.7" fill="#76d81a" stroke="#3a8a10" stroke-width="0.4"/>
<text x="252.83" y="317.20" font-size="6.40" fill="#111" stroke="#111" stroke-width="0.141">M</text>
<text x="246.75" y="304.15" font-size="4.31" fill="#222" stroke="#222" stroke-width="0.095">tagName</text>
<text x="249.75" y="328.82" font-size="4.50" fill="#222" stroke="#222" stroke-width="0.099">000%</text>
<rect x="294.40" y="316.95" width="2.60" height="12.10" fill="#ccccc4" />
<polygon points="292.30,316.65 295.15,323.00 292.30,329.35 299.10,329.35 296.25,323.00 299.10,316.65" fill="#a2a2a2" stroke="#969696" stroke-width="0.3"/>
<rect x="315.70" y="299.95" width="2.60" height="12.10" fill="#ccccc4" />
<polygon points="313.60,299.65 316.45,306.00 313.60,312.35 320.40,312.35 317.55,306.00 320.40,299.65" fill="#a2a2a2" stroke="#969696" stroke-width="0.3"/>
<g transform="rotate(-90 309.50 306.00)"><text x="298.75" y="307.55" font-size="4.30" fill="#222" stroke="#222" stroke-width="0.095">valveName</text></g>
<g transform="rotate(-90 287.70 318.00)"><text x="282.50" y="319.40" font-size="3.90" fill="#222" stroke="#222" stroke-width="0.086">Name</text></g>
<circle cx="333.8" cy="314.2" r="5.5" fill="#c5121f"/>
<text x="329.00" y="315.50" font-size="3.60" fill="#3a0000" stroke="#3a0000" stroke-width="0.079">Name</text>
<text x="325.05" y="307.45" font-size="4.31" fill="#222" stroke="#222" stroke-width="0.095">tagName</text>
<text x="323.50" y="324.58" font-size="4.65" fill="#222" stroke="#222" stroke-width="0.102">00000  Unit</text>
<text x="323.50" y="330.38" font-size="4.65" fill="#222" stroke="#222" stroke-width="0.102">00000  Unit</text>
<circle cx="369.3" cy="314.2" r="5.5" fill="#c5121f"/>
<text x="364.50" y="315.50" font-size="3.60" fill="#3a0000" stroke="#3a0000" stroke-width="0.079">Name</text>
<text x="360.55" y="307.45" font-size="4.31" fill="#222" stroke="#222" stroke-width="0.095">tagName</text>
<text x="359.00" y="324.58" font-size="4.65" fill="#222" stroke="#222" stroke-width="0.102">00000  Unit</text>
<text x="359.00" y="330.38" font-size="4.65" fill="#222" stroke="#222" stroke-width="0.102">00000  Unit</text>
<circle cx="404.9" cy="314.2" r="5.5" fill="#c5121f"/>
<text x="400.10" y="315.50" font-size="3.60" fill="#3a0000" stroke="#3a0000" stroke-width="0.079">Name</text>
<text x="396.15" y="307.45" font-size="4.31" fill="#222" stroke="#222" stroke-width="0.095">tagName</text>
<text x="394.60" y="324.58" font-size="4.65" fill="#222" stroke="#222" stroke-width="0.102">00000  Unit</text>
<text x="394.60" y="330.38" font-size="4.65" fill="#222" stroke="#222" stroke-width="0.102">00000  Unit</text>
<rect x="428.75" y="312.90" width="12.10" height="2.60" fill="#ccccc4" />
<polygon points="428.45,310.80 434.80,313.65 441.15,310.80 441.15,317.60 434.80,314.75 428.45,317.60" fill="#a2a2a2" stroke="#969696" stroke-width="0.3"/>
<text x="423.60" y="308.51" font-size="4.48" fill="#222" stroke="#222" stroke-width="0.099">valveName</text>
<text x="429.05" y="324.52" font-size="4.50" fill="#222" stroke="#222" stroke-width="0.099">000%</text>
<circle cx="566" cy="313.6" r="8.7" fill="#76d81a" stroke="#3a8a10" stroke-width="0.4"/>
<text x="563.33" y="315.90" font-size="6.40" fill="#111" stroke="#111" stroke-width="0.141">M</text>
<text x="557.25" y="302.85" font-size="4.31" fill="#222" stroke="#222" stroke-width="0.095">tagName</text>
<text x="560.25" y="327.52" font-size="4.50" fill="#222" stroke="#222" stroke-width="0.099">000%</text>
<circle cx="621" cy="313.6" r="5.5" fill="#c5121f"/>
<text x="616.20" y="314.90" font-size="3.60" fill="#3a0000" stroke="#3a0000" stroke-width="0.079">Name</text>
<text x="612.25" y="306.85" font-size="4.31" fill="#222" stroke="#222" stroke-width="0.095">tagName</text>
<text x="610.70" y="323.98" font-size="4.65" fill="#222" stroke="#222" stroke-width="0.102">00000  Unit</text>
<text x="610.70" y="329.78" font-size="4.65" fill="#222" stroke="#222" stroke-width="0.102">00000  Unit</text>
<rect x="685.25" y="312.30" width="12.10" height="2.60" fill="#ccccc4" />
<polygon points="684.95,310.20 691.30,313.05 697.65,310.20 697.65,317.00 691.30,314.15 684.95,317.00" fill="#a2a2a2" stroke="#969696" stroke-width="0.3"/>
<text x="680.10" y="307.91" font-size="4.48" fill="#222" stroke="#222" stroke-width="0.099">valveName</text>
<text x="685.55" y="323.92" font-size="4.50" fill="#222" stroke="#222" stroke-width="0.099">000%</text>
<rect x="669.00" y="322.25" width="2.60" height="12.10" fill="#ccccc4" />
<polygon points="666.90,321.95 669.75,328.30 666.90,334.65 673.70,334.65 670.85,328.30 673.70,321.95" fill="#a2a2a2" stroke="#969696" stroke-width="0.3"/>
<g transform="rotate(-90 662.80 328.30)"><text x="652.05" y="329.85" font-size="4.30" fill="#222" stroke="#222" stroke-width="0.095">valveName</text></g>
<rect x="413.10" y="267.60" width="14.40" height="23.90" fill="#d8d8d8" />
<rect x="417.90" y="267.60" width="4.70" height="2.30" fill="#3d9c52" />
<rect x="413.10" y="269.70" width="14.40" height="11.60" fill="#3d9c52" stroke="#1a3a22" stroke-width="0.3"/>
<path d="M413.1 271.6 H427.5 M413.1 274.3 H427.5 M413.1 276.4 H427.5 M413.1 279.2 H427.5" stroke="#0d1f12" stroke-width="0.55"/>
<path d="M416 271.6 V274.3 M424.5 271.6 V274.3 M417 276.4 V279.2 M423.5 276.4 V279.2" stroke="#0d1f12" stroke-width="0.4"/>
<rect x="419.20" y="281.30" width="2.30" height="5.20" fill="#3d9c52" />
<rect x="417.30" y="281.50" width="1.50" height="2.00" fill="#111" />
<ellipse cx="420" cy="288.2" rx="6.5" ry="2" fill="#4ca65e" stroke="#1a3a22" stroke-width="0.3"/>
<path d="M420.2 290 V292.2" fill="none" stroke="#5a12d8" stroke-width="1.2"/>
<rect x="428.70" y="277.10" width="7.80" height="2.60" fill="#ccccc4" />
<polygon points="428.40,276.05 432.60,277.85 436.80,276.05 436.80,280.75 432.60,278.95 428.40,280.75" fill="#a2a2a2" stroke="#969696" stroke-width="0.3"/>
<text x="428.20" y="284.28" font-size="4.11" fill="#333" stroke="#333" stroke-width="0.090">valve</text>
<text x="415.53" y="295.61" font-size="4.20" fill="#333" stroke="#333" stroke-width="0.092">506a</text>
<g stroke="#2a2a2a" stroke-width="0.55"><rect x="443.4" y="164.2" width="11.2" height="21" fill="#b2b2b2"/><ellipse cx="449.6" cy="165.2" rx="3.2" ry="1.6" fill="#8a8a8a"/><path d="M447 178.5 Q451 183 454.6 181" fill="none" stroke="#555"/><rect x="469.7" y="147" width="9.8" height="8.6" fill="#9c9c9c"/><rect x="469.7" y="149.6" width="9.8" height="1.6" fill="#e2e2e2" stroke="none"/><rect x="469.7" y="152.6" width="9.8" height="0.9" fill="#555" stroke="none"/><path d="M465.5 155.8 H482 Q489 161 494.2 170.6 H452.4 Q457.5 161 465.5 155.8 Z" fill="#acacac"/><rect x="451.8" y="170.6" width="43" height="5.6" rx="1.6" fill="#a0a0a0"/><path d="M452.6 173.4 H494" stroke="#666" stroke-width="0.5"/><path d="M453.6 176.2 H493 L489.9 185.4 H456.8 Z" fill="#a6a6a6"/><path d="M455 179.6 H491.6 M456 182.6 H490.6" stroke="#7a7a7a" stroke-width="0.4"/><circle cx="472.7" cy="163.9" r="5" fill="#35dc12" stroke="#1a1a1a" stroke-width="0.6"/></g>
<path d="M470.6 163.9 H476.4" stroke="#000" stroke-width="1.5"/><polygon points="468.6,163.9 471.7,161 471.7,166.8" fill="#000"/>
<rect x="443.60" y="170.00" width="5.40" height="5.10" fill="#c5121f" />
<g transform="rotate(-90 439.60 174.00)"><text x="431.66" y="175.51" font-size="4.20" fill="#333" stroke="#333" stroke-width="0.092">LS222-1</text></g>
<g stroke="#555" stroke-width="0.4"><rect x="423.2" y="190.6" width="13" height="18.1" rx="2" fill="#a8a8a8"/><path d="M426 190.6 V208.7 M429 190.6 V208.7 M432 190.6 V208.7" stroke="#666"/></g>
<path d="M586.5 229.3 Q598.4 224.6 610.3 229.3 V258.4 Q598.4 261.6 586.5 258.4 Z" fill="url(#tk)"/>
<path d="M586.5 229.3 Q598.4 233.6 610.3 229.3" fill="none" stroke="#bdbdbd" stroke-width="0.4"/>
<rect x="590.20" y="245.80" width="4.20" height="13.40" fill="#5060e0" rx="2.1"/>
<path d="M581 231.5 H587" stroke="#222" stroke-width="0.6"/>
<circle cx="575.6" cy="231.5" r="5.5" fill="#c5121f"/>
<text x="570.80" y="232.80" font-size="3.60" fill="#3a0000" stroke="#3a0000" stroke-width="0.079">Name</text>
<text x="566.85" y="224.75" font-size="4.31" fill="#222" stroke="#222" stroke-width="0.095">tagName</text>
<text x="565.30" y="241.88" font-size="4.65" fill="#222" stroke="#222" stroke-width="0.102">00000  Unit</text>
<text x="565.30" y="247.68" font-size="4.65" fill="#222" stroke="#222" stroke-width="0.102">00000  Unit</text>
<text x="567.20" y="261.40" font-size="4.44" fill="#222" stroke="#222" stroke-width="0.098">tagName</text>
<rect x="629.5" y="213.5" width="9" height="16.5" rx="1" fill="#e8e8e8" stroke="#333" stroke-width="0.5"/>
<rect x="631.20" y="215.50" width="5.60" height="5.60" fill="#555" />
<rect x="621.00" y="245.40" width="91.30" height="50.50" fill="#e1e1e1" />
<rect x="621" y="232" width="91.3" height="13.4" fill="#6ff9fb" stroke="#555" stroke-width="0.5"/>
<text x="643.00" y="241.05" font-size="6.52" fill="#111" font-weight="bold" stroke="#111" stroke-width="0.143">Start Discharge</text>
<text x="656.10" y="253.12" font-size="5.05" fill="#333" textLength="20.20" lengthAdjust="spacingAndGlyphs" stroke="#333" stroke-width="0.25" transform="matrix(1 0 0 1.2 0 -50.25)">安全检查</text>
<rect x="625.6" y="258.5" width="4.8" height="4.4" rx="0.8" fill="#fafafa" stroke="#888" stroke-width="0.4"/>
<text x="634.30" y="262.91" font-size="5.04" fill="#333" textLength="35.27" lengthAdjust="spacingAndGlyphs" stroke="#333" stroke-width="0.25" transform="matrix(1 0 0 1.2 0 -52.21)">速度变送器上电</text><text x="669.57" y="262.91" font-size="5.04" fill="#333" stroke="#333" stroke-width="0.111"> </text><text x="670.97" y="262.91" font-size="5.04" fill="#333" textLength="25.19" lengthAdjust="spacingAndGlyphs" stroke="#333" stroke-width="0.25" transform="matrix(1 0 0 1.2 0 -52.21)">变频器准备</text><text x="696.16" y="262.91" font-size="5.04" fill="#333" stroke="#333" stroke-width="0.111"> = 1</text>
<rect x="625.6" y="267.0" width="4.8" height="4.4" rx="0.8" fill="#fafafa" stroke="#888" stroke-width="0.4"/>
<text x="634.30" y="271.41" font-size="5.04" fill="#333" textLength="35.27" lengthAdjust="spacingAndGlyphs" stroke="#333" stroke-width="0.25" transform="matrix(1 0 0 1.2 0 -53.91)">速度变送器上电</text><text x="669.57" y="271.41" font-size="5.04" fill="#333" stroke="#333" stroke-width="0.111"> </text><text x="670.97" y="271.41" font-size="5.04" fill="#333" textLength="25.19" lengthAdjust="spacingAndGlyphs" stroke="#333" stroke-width="0.25" transform="matrix(1 0 0 1.2 0 -53.91)">变频器准备</text><text x="696.16" y="271.41" font-size="5.04" fill="#333" stroke="#333" stroke-width="0.111"> = 0</text>
<rect x="625.6" y="275.3" width="4.8" height="4.4" rx="0.8" fill="#fafafa" stroke="#888" stroke-width="0.4"/>
<text x="634.30" y="279.71" font-size="5.04" fill="#333" textLength="35.27" lengthAdjust="spacingAndGlyphs" stroke="#333" stroke-width="0.25" transform="matrix(1 0 0 1.2 0 -55.57)">速度变送器上电</text><text x="669.57" y="279.71" font-size="5.04" fill="#333" stroke="#333" stroke-width="0.111"> </text><text x="670.97" y="279.71" font-size="5.04" fill="#333" textLength="25.19" lengthAdjust="spacingAndGlyphs" stroke="#333" stroke-width="0.25" transform="matrix(1 0 0 1.2 0 -55.57)">变频器准备</text><text x="696.16" y="279.71" font-size="5.04" fill="#333" stroke="#333" stroke-width="0.111"> = 1</text>
<text x="648.30" y="291.39" font-size="5.24" fill="#333" textLength="20.95" lengthAdjust="spacingAndGlyphs" stroke="#333" stroke-width="0.26" transform="matrix(1 0 0 1.2 0 -57.89)">剩余时间</text><text x="669.25" y="291.39" font-size="5.24" fill="#333" stroke="#333" stroke-width="0.115">:</text>
<text x="676.30" y="287.51" font-size="5.57" fill="#333" stroke="#333" stroke-width="0.123">00</text>
<text x="686.90" y="291.51" font-size="5.57" fill="#333" stroke="#333" stroke-width="0.123">00</text>
<rect x="436.6" y="186.4" width="101.6" height="62" fill="#d9d9d2" stroke="#777" stroke-width="0.6"/>
<rect x="436.60" y="186.40" width="101.60" height="15.40" fill="#1d0b82" />
<rect x="522.80" y="187.20" width="14.70" height="13.60" fill="#d2d2d2" />
<text x="528.20" y="196.16" font-size="6.00" fill="#222" stroke="#222" stroke-width="0.132">X</text>
<text x="438.60" y="196.59" font-size="6.64" fill="#e8e6ff" textLength="46.50" lengthAdjust="spacingAndGlyphs" stroke="#e8e6ff" stroke-width="0.33" transform="matrix(1 0 0 1.2 0 -38.83)">点击以设置文字</text>
<text x="477.05" y="216.95" font-size="6.25" fill="#222" textLength="6.25" lengthAdjust="spacingAndGlyphs" stroke="#222" stroke-width="0.31" transform="matrix(1 0 0 1.2 0 -42.93)">开</text><text x="483.30" y="216.95" font-size="6.25" fill="#222" stroke="#222" stroke-width="0.138">/</text><text x="485.04" y="216.95" font-size="6.25" fill="#222" textLength="12.51" lengthAdjust="spacingAndGlyphs" stroke="#222" stroke-width="0.31" transform="matrix(1 0 0 1.2 0 -42.93)">关阀</text>
<rect x="460.40" y="225.20" width="54.20" height="17.80" fill="#c1c1c1" />
<text x="480.50" y="236.31" font-size="6.15" fill="#333" textLength="6.15" lengthAdjust="spacingAndGlyphs" stroke="#333" stroke-width="0.31" transform="matrix(1 0 0 1.2 0 -46.81)">切</text><text x="486.65" y="236.31" font-size="6.15" fill="#333" stroke="#333" stroke-width="0.135"> </text><text x="488.35" y="236.31" font-size="6.15" fill="#333" textLength="6.15" lengthAdjust="spacingAndGlyphs" stroke="#333" stroke-width="0.31" transform="matrix(1 0 0 1.2 0 -46.81)">换</text>
<rect x="276.3" y="328.4" width="79.2" height="50.2" fill="#d4d0c8" stroke="#777" stroke-width="0.5"/>
<rect x="277.00" y="329.00" width="78.00" height="7.60" fill="url(#tb)" />
<text x="278.30" y="334.53" font-size="4.80" fill="#fff" font-weight="bold" stroke="#fff" stroke-width="0.106">Reset flow</text>
<rect x="348.3" y="329.6" width="6" height="5.6" fill="#d4d0c8" stroke="#555" stroke-width="0.4"/>
<text x="349.69" y="334.38" font-size="5.50" fill="#111" stroke="#111" stroke-width="0.121">×</text>
<defs><radialGradient id="qg" cx="0.35" cy="0.3" r="0.8"><stop offset="0" stop-color="#ffffff"/><stop offset="0.6" stop-color="#c8d4f4"/><stop offset="1" stop-color="#6a86d8"/></radialGradient></defs>
<ellipse cx="289.3" cy="347.4" rx="5.6" ry="5.3" fill="url(#qg)" stroke="#5570c8" stroke-width="0.4"/><path d="M286.3 351.5 L285.2 355.8 L289.8 352.4Z" fill="#8aa0e0"/>
<text x="287.04" y="350.06" font-size="7.40" fill="#1c2c9c" font-weight="bold" stroke="#1c2c9c" stroke-width="0.163">?</text>
<text x="298.50" y="348.13" font-size="5.91" fill="#222" textLength="23.63" lengthAdjust="spacingAndGlyphs" stroke="#222" stroke-width="0.30" transform="matrix(1 0 0 1.2 0 -69.19)">复位流量</text><text x="322.13" y="348.13" font-size="5.91" fill="#222" stroke="#222" stroke-width="0.130">FIT201-1</text><text x="346.09" y="348.13" font-size="5.91" fill="#222" textLength="5.91" lengthAdjust="spacingAndGlyphs" stroke="#222" stroke-width="0.30" transform="matrix(1 0 0 1.2 0 -69.19)">累</text>
<text x="298.50" y="357.50" font-size="5.28" fill="#222" textLength="10.56" lengthAdjust="spacingAndGlyphs" stroke="#222" stroke-width="0.26" transform="matrix(1 0 0 1.2 0 -71.11)">计值</text><text x="309.06" y="357.50" font-size="5.28" fill="#222" stroke="#222" stroke-width="0.116">?</text>
<rect x="283.60" y="362.40" width="28.40" height="13.00" fill="#c0c0bb" />
<rect x="320.80" y="362.40" width="29.40" height="13.00" fill="#c0c0bb" />
<text x="295.80" y="370.34" font-size="4.00" fill="#333" textLength="4.00" lengthAdjust="spacingAndGlyphs" stroke="#333" stroke-width="0.20" transform="matrix(1 0 0 1.2 0 -73.77)">是</text>
<text x="333.50" y="370.34" font-size="4.00" fill="#333" textLength="4.00" lengthAdjust="spacingAndGlyphs" stroke="#333" stroke-width="0.20" transform="matrix(1 0 0 1.2 0 -73.77)">否</text>
<text x="126.70" y="373.26" font-size="5.16" fill="#222" textLength="51.57" lengthAdjust="spacingAndGlyphs" stroke="#222" stroke-width="0.26" transform="matrix(1 0 0 1.2 0 -74.27)">生产时进料流量累计值</text><text x="178.27" y="373.26" font-size="5.16" fill="#222" stroke="#222" stroke-width="0.113">:</text>
<text x="234.00" y="373.76" font-size="5.99" fill="#222" stroke="#222" stroke-width="0.132">000000 L</text>
<rect x="120.00" y="381.80" width="693.00" height="44.20" fill="#b8b8b8" />
<rect x="120.00" y="402.80" width="693.00" height="1.10" fill="#cdcdc6" />
<rect x="189.00" y="381.80" width="0.60" height="44.20" fill="#bdbdb7" />
<rect x="258.30" y="381.80" width="0.60" height="44.20" fill="#bdbdb7" />
<rect x="327.60" y="381.80" width="0.60" height="44.20" fill="#bdbdb7" />
<rect x="396.90" y="381.80" width="0.60" height="44.20" fill="#bdbdb7" />
<rect x="466.20" y="381.80" width="0.60" height="44.20" fill="#bdbdb7" />
<rect x="535.50" y="381.80" width="0.60" height="44.20" fill="#bdbdb7" />
<rect x="604.80" y="381.80" width="0.60" height="44.20" fill="#bdbdb7" />
<rect x="674.10" y="381.80" width="0.60" height="44.20" fill="#bdbdb7" />
<rect x="743.40" y="381.80" width="0.60" height="44.20" fill="#bdbdb7" />
<text x="147.82" y="394.46" font-size="6.00" fill="#333" textLength="6.00" lengthAdjust="spacingAndGlyphs" stroke="#333" stroke-width="0.30" transform="matrix(1 0 0 1.2 0 -78.45)">启</text><text x="153.82" y="394.46" font-size="6.00" fill="#333" stroke="#333" stroke-width="0.132"> </text><text x="155.48" y="394.46" font-size="6.00" fill="#333" textLength="6.00" lengthAdjust="spacingAndGlyphs" stroke="#333" stroke-width="0.30" transform="matrix(1 0 0 1.2 0 -78.45)">动</text>
<text x="147.82" y="416.76" font-size="6.00" fill="#333" textLength="6.00" lengthAdjust="spacingAndGlyphs" stroke="#333" stroke-width="0.30" transform="matrix(1 0 0 1.2 0 -82.91)">停</text><text x="153.82" y="416.76" font-size="6.00" fill="#333" stroke="#333" stroke-width="0.132"> </text><text x="155.48" y="416.76" font-size="6.00" fill="#333" textLength="6.00" lengthAdjust="spacingAndGlyphs" stroke="#333" stroke-width="0.30" transform="matrix(1 0 0 1.2 0 -82.91)">机</text>
<text x="214.95" y="394.46" font-size="6.00" fill="#333" textLength="18.00" lengthAdjust="spacingAndGlyphs" stroke="#333" stroke-width="0.30" transform="matrix(1 0 0 1.2 0 -78.45)">干等待</text>
<text x="215.95" y="416.76" font-size="6.00" fill="#333" stroke="#333" stroke-width="0.132">CIP</text><text x="225.95" y="416.76" font-size="6.00" fill="#333" textLength="6.00" lengthAdjust="spacingAndGlyphs" stroke="#333" stroke-width="0.30" transform="matrix(1 0 0 1.2 0 -82.91)">站</text>
<text x="284.25" y="394.46" font-size="6.00" fill="#333" textLength="18.00" lengthAdjust="spacingAndGlyphs" stroke="#333" stroke-width="0.30" transform="matrix(1 0 0 1.2 0 -78.45)">湿等待</text>
<text x="287.25" y="416.76" font-size="6.00" fill="#333" textLength="12.00" lengthAdjust="spacingAndGlyphs" stroke="#333" stroke-width="0.30" transform="matrix(1 0 0 1.2 0 -82.91)">备用</text>
<text x="355.72" y="394.46" font-size="6.00" fill="#333" textLength="12.00" lengthAdjust="spacingAndGlyphs" stroke="#333" stroke-width="0.30" transform="matrix(1 0 0 1.2 0 -78.45)">生产</text><text x="367.72" y="394.46" font-size="6.00" fill="#333" stroke="#333" stroke-width="0.132">.</text>
<text x="356.55" y="416.76" font-size="6.00" fill="#333" textLength="12.00" lengthAdjust="spacingAndGlyphs" stroke="#333" stroke-width="0.30" transform="matrix(1 0 0 1.2 0 -82.91)">备用</text>
<text x="426.02" y="394.46" font-size="6.00" fill="#333" stroke="#333" stroke-width="0.132">CIP.</text>
<text x="419.85" y="416.76" font-size="6.00" fill="#333" textLength="24.00" lengthAdjust="spacingAndGlyphs" stroke="#333" stroke-width="0.30" transform="matrix(1 0 0 1.2 0 -82.91)">系统排放</text>
<text x="494.32" y="394.46" font-size="6.00" fill="#333" textLength="6.00" lengthAdjust="spacingAndGlyphs" stroke="#333" stroke-width="0.30" transform="matrix(1 0 0 1.2 0 -78.45)">排</text><text x="500.32" y="394.46" font-size="6.00" fill="#333" stroke="#333" stroke-width="0.132"> </text><text x="501.98" y="394.46" font-size="6.00" fill="#333" textLength="6.00" lengthAdjust="spacingAndGlyphs" stroke="#333" stroke-width="0.30" transform="matrix(1 0 0 1.2 0 -78.45)">渣</text>
<text x="494.32" y="416.76" font-size="6.00" fill="#333" textLength="6.00" lengthAdjust="spacingAndGlyphs" stroke="#333" stroke-width="0.30" transform="matrix(1 0 0 1.2 0 -82.91)">渣</text><text x="500.32" y="416.76" font-size="6.00" fill="#333" stroke="#333" stroke-width="0.132"> </text><text x="501.98" y="416.76" font-size="6.00" fill="#333" textLength="6.00" lengthAdjust="spacingAndGlyphs" stroke="#333" stroke-width="0.30" transform="matrix(1 0 0 1.2 0 -82.91)">泵</text>
<text x="563.62" y="394.46" font-size="6.00" fill="#333" textLength="6.00" lengthAdjust="spacingAndGlyphs" stroke="#333" stroke-width="0.30" transform="matrix(1 0 0 1.2 0 -78.45)">排</text><text x="569.62" y="394.46" font-size="6.00" fill="#333" stroke="#333" stroke-width="0.132"> </text><text x="571.28" y="394.46" font-size="6.00" fill="#333" textLength="6.00" lengthAdjust="spacingAndGlyphs" stroke="#333" stroke-width="0.30" transform="matrix(1 0 0 1.2 0 -78.45)">空</text>
<text x="552.45" y="416.76" font-size="6.00" fill="#333" textLength="36.00" lengthAdjust="spacingAndGlyphs" stroke="#333" stroke-width="0.30" transform="matrix(1 0 0 1.2 0 -82.91)">手动排放夹套</text>
<text x="627.75" y="394.46" font-size="6.00" fill="#333" textLength="24.00" lengthAdjust="spacingAndGlyphs" stroke="#333" stroke-width="0.30" transform="matrix(1 0 0 1.2 0 -78.45)">排渣逻辑</text>
<text x="627.75" y="416.76" font-size="6.00" fill="#333" textLength="24.00" lengthAdjust="spacingAndGlyphs" stroke="#333" stroke-width="0.30" transform="matrix(1 0 0 1.2 0 -82.91)">画面选择</text>
<text x="698.05" y="394.46" font-size="6.00" fill="#333" stroke="#333" stroke-width="0.132">CIP</text><text x="708.05" y="394.46" font-size="6.00" fill="#333" textLength="12.00" lengthAdjust="spacingAndGlyphs" stroke="#333" stroke-width="0.30" transform="matrix(1 0 0 1.2 0 -78.45)">保持</text>
<text x="702.22" y="416.76" font-size="6.00" fill="#333" textLength="6.00" lengthAdjust="spacingAndGlyphs" stroke="#333" stroke-width="0.30" transform="matrix(1 0 0 1.2 0 -82.91)">备</text><text x="708.22" y="416.76" font-size="6.00" fill="#333" stroke="#333" stroke-width="0.132"> </text><text x="709.88" y="416.76" font-size="6.00" fill="#333" textLength="6.00" lengthAdjust="spacingAndGlyphs" stroke="#333" stroke-width="0.30" transform="matrix(1 0 0 1.2 0 -82.91)">用</text>
<text x="771.52" y="394.46" font-size="6.00" fill="#333" textLength="6.00" lengthAdjust="spacingAndGlyphs" stroke="#333" stroke-width="0.30" transform="matrix(1 0 0 1.2 0 -78.45)">备</text><text x="777.52" y="394.46" font-size="6.00" fill="#333" stroke="#333" stroke-width="0.132"> </text><text x="779.18" y="394.46" font-size="6.00" fill="#333" textLength="6.00" lengthAdjust="spacingAndGlyphs" stroke="#333" stroke-width="0.30" transform="matrix(1 0 0 1.2 0 -78.45)">用</text>
<text x="771.52" y="416.76" font-size="6.00" fill="#333" textLength="6.00" lengthAdjust="spacingAndGlyphs" stroke="#333" stroke-width="0.30" transform="matrix(1 0 0 1.2 0 -82.91)">备</text><text x="777.52" y="416.76" font-size="6.00" fill="#333" stroke="#333" stroke-width="0.132"> </text><text x="779.18" y="416.76" font-size="6.00" fill="#333" textLength="6.00" lengthAdjust="spacingAndGlyphs" stroke="#333" stroke-width="0.30" transform="matrix(1 0 0 1.2 0 -82.91)">用</text>
</g>
<rect x="119.1" y="35.1" width="1.8" height="1.8" fill="#5a86f0"/>
<rect x="465.6" y="35.1" width="1.8" height="1.8" fill="#5a86f0"/>
<rect x="812.1" y="35.1" width="1.8" height="1.8" fill="#5a86f0"/>
<rect x="119.1" y="230.1" width="1.8" height="1.8" fill="#5a86f0"/>
<rect x="812.1" y="230.1" width="1.8" height="1.8" fill="#5a86f0"/>
<rect x="119.1" y="425.1" width="1.8" height="1.8" fill="#5a86f0"/>
<rect x="465.6" y="425.1" width="1.8" height="1.8" fill="#5a86f0"/>
<rect x="812.1" y="425.1" width="1.8" height="1.8" fill="#5a86f0"/>
<polygon points="72.30,15.60 84.96,11.66 82.58,15.44 133.02,28.12 132.58,30.08 81.54,20.12 82.09,24.55" fill="#e22d1b" stroke="#e22d1b" stroke-width="0.3" stroke-linejoin="round"/>
<polygon points="213.40,12.20 219.90,8.10 219.90,11.20 240.90,11.40 240.90,13.00 219.90,13.20 219.90,16.30" fill="#e22d1b" stroke="#e22d1b" stroke-width="0.3" stroke-linejoin="round"/>
<polygon points="773.70,12.60 768.20,15.80 768.20,13.50 750.00,13.30 750.00,11.90 768.20,11.70 768.20,9.40" fill="#e22d1b" stroke="#e22d1b" stroke-width="0.3" stroke-linejoin="round"/>
<polygon points="884.30,18.80 888.10,25.80 885.40,25.80 885.10,45.80 883.50,45.80 883.20,25.80 880.50,25.80" fill="#e22d1b" stroke="#e22d1b" stroke-width="0.3" stroke-linejoin="round"/>
<polygon points="1012.80,233.80 1013.80,226.34 1015.93,228.00 1028.25,212.87 1029.35,213.73 1017.67,229.35 1019.79,231.01" fill="#e22d1b" stroke="#e22d1b" stroke-width="0.3" stroke-linejoin="round"/>
<polygon points="838.20,348.60 852.21,347.08 849.32,350.35 928.71,382.91 928.09,384.49 847.58,354.83 847.49,359.19" fill="#e22d1b" stroke="#e22d1b" stroke-width="0.3" stroke-linejoin="round"/>
<rect x="7.7" y="19.5" width="73.60" height="148.00" rx="2.2" fill="none" stroke="#e8432f" stroke-width="1.3"/>
<rect x="3" y="176.6" width="90.90" height="199.00" rx="2.2" fill="none" stroke="#e8432f" stroke-width="1.3"/>
<rect x="950.5" y="8.6" width="135.50" height="292.70" rx="2.2" fill="none" stroke="#e8432f" stroke-width="1.3"/>
<text x="136.70" y="31.09" font-size="8.02" fill="#e8432f" textLength="48.10" lengthAdjust="spacingAndGlyphs" stroke="#e8432f" stroke-width="0.40" transform="matrix(1 0 0 1.2 0 -5.62)">创建一个画面</text>
<text x="252.30" y="15.42" font-size="8.10" fill="#e8432f" textLength="48.60" lengthAdjust="spacingAndGlyphs" stroke="#e8432f" stroke-width="0.40" transform="matrix(1 0 0 1.2 0 -2.48)">打开背景网格</text>
<text x="656.00" y="17.25" font-size="8.18" fill="#e8432f" textLength="90.00" lengthAdjust="spacingAndGlyphs" stroke="#e8432f" stroke-width="0.41" transform="matrix(1 0 0 1.2 0 -2.84)">正在编辑的此画面的用户</text>
<text x="801.90" y="21.75" font-size="7.92" fill="#e8432f" textLength="39.60" lengthAdjust="spacingAndGlyphs" stroke="#e8432f" stroke-width="0.40" transform="matrix(1 0 0 1.2 0 -3.76)">当前的语言</text>
<text x="907.50" y="25.93" font-size="8.12" fill="#e8432f" textLength="32.50" lengthAdjust="spacingAndGlyphs" stroke="#e8432f" stroke-width="0.41" transform="matrix(1 0 0 1.2 0 -4.58)">画面缩放</text>
<text x="830.50" y="57.96" font-size="8.21" fill="#e8432f" textLength="90.30" lengthAdjust="spacingAndGlyphs" stroke="#e8432f" stroke-width="0.41" transform="matrix(1 0 0 1.2 0 -10.98)">从此处开始创建页面元素</text>
<text x="84.70" y="150.31" font-size="8.07" fill="#e8432f" textLength="32.30" lengthAdjust="spacingAndGlyphs" stroke="#e8432f" stroke-width="0.40" transform="matrix(1 0 0 1.2 0 -29.46)">画面列表</text>
<text x="104.40" y="295.14" font-size="8.18" fill="#e8432f" textLength="73.60" lengthAdjust="spacingAndGlyphs" stroke="#e8432f" stroke-width="0.41" transform="matrix(1 0 0 1.2 0 -58.42)">当前画面的所有内容</text>
<text x="1029.60" y="209.56" font-size="8.23" fill="#e8432f" textLength="49.40" lengthAdjust="spacingAndGlyphs" stroke="#e8432f" stroke-width="0.41" transform="matrix(1 0 0 1.2 0 -41.30)">页面使用模板</text>
<text x="1014.20" y="266.13" font-size="8.13" fill="#e8432f" textLength="48.80" lengthAdjust="spacingAndGlyphs" stroke="#e8432f" stroke-width="0.41" transform="matrix(1 0 0 1.2 0 -52.62)">页面所需变量</text>
<text x="969.70" y="316.34" font-size="8.43" fill="#e8432f" textLength="16.86" lengthAdjust="spacingAndGlyphs" stroke="#e8432f" stroke-width="0.42" transform="matrix(1 0 0 1.2 0 -62.64)">组件</text><text x="986.56" y="316.34" font-size="8.43" fill="#e8432f" stroke="#e8432f" stroke-width="0.186">/</text><text x="988.91" y="316.34" font-size="8.43" fill="#e8432f" textLength="50.59" lengthAdjust="spacingAndGlyphs" stroke="#e8432f" stroke-width="0.42" transform="matrix(1 0 0 1.2 0 -62.64)">页面属性编辑</text>
<text x="927.60" y="401.73" font-size="8.15" fill="#e8432f" textLength="32.60" lengthAdjust="spacingAndGlyphs" stroke="#e8432f" stroke-width="0.41" transform="matrix(1 0 0 1.2 0 -79.74)">画面区域</text>
</svg></body></html>
